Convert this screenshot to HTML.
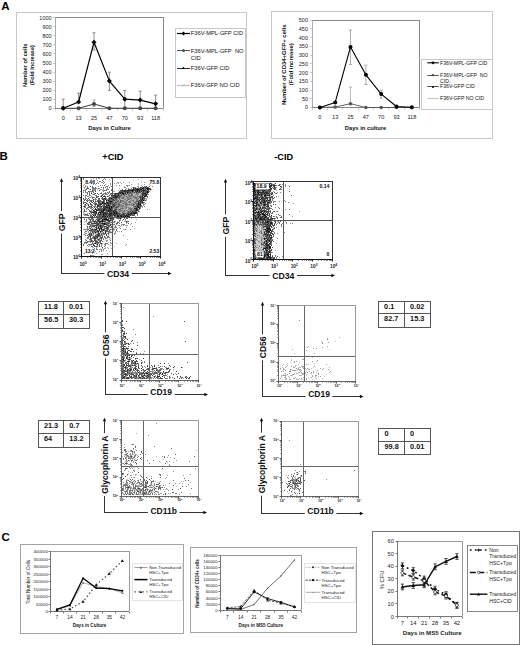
<!DOCTYPE html>
<html><head><meta charset="utf-8"><style>html,body{margin:0;padding:0;background:#fff;overflow:hidden;}svg{display:block;}</style></head>
<body><svg width="520" height="645" viewBox="0 0 520 645" font-family='"Liberation Sans", sans-serif'>
<rect width="520" height="645" fill="#fff"/>
<text x="1.2" y="9.6" font-size="11.5" font-weight="bold">A</text>
<text x="-0.6" y="159.8" font-size="11.5" font-weight="bold">B</text>
<text x="1.5" y="541" font-size="11.5" font-weight="bold">C</text>
<rect x="16.5" y="12.5" width="230" height="126" stroke="#c8c8c8" stroke-width="1" fill="none"/>
<path d="M55.5 17.5L164 17.5" stroke="#888" stroke-width="1"/>
<path d="M163.5 17L163.5 108.3" stroke="#888" stroke-width="1"/>
<path d="M55.5 17L55.5 109" stroke="#aaa" stroke-width="1"/>
<path d="M55 108.5L163.3 108.5" stroke="#888" stroke-width="1"/>
<text x="51.6" y="110.28" font-size="5.5" text-anchor="end" fill="#222">0</text>
<text x="51.6" y="101.22" font-size="5.5" text-anchor="end" fill="#222">100</text>
<text x="51.6" y="92.16" font-size="5.5" text-anchor="end" fill="#222">200</text>
<text x="51.6" y="83.1" font-size="5.5" text-anchor="end" fill="#222">300</text>
<text x="51.6" y="74.04" font-size="5.5" text-anchor="end" fill="#222">400</text>
<text x="51.6" y="64.98" font-size="5.5" text-anchor="end" fill="#222">500</text>
<text x="51.6" y="55.92" font-size="5.5" text-anchor="end" fill="#222">600</text>
<text x="51.6" y="46.86" font-size="5.5" text-anchor="end" fill="#222">700</text>
<text x="51.6" y="37.8" font-size="5.5" text-anchor="end" fill="#222">800</text>
<text x="51.6" y="28.74" font-size="5.5" text-anchor="end" fill="#222">900</text>
<text x="51.6" y="19.68" font-size="5.5" text-anchor="end" fill="#222">1000</text>
<path d="M53 108.5h2M53 99.5h2M53 90.5h2M53 81.5h2M53 72.5h2M53 63.5h2M53 53.5h2M53 44.5h2M53 35.5h2M53 26.5h2M53 17.5h2M55.5 109v2M70.5 109v2M86.5 109v2M101.5 109v2M117.5 109v2M132.5 109v2M147.5 109v2M163.5 109v2" stroke="#ccc" stroke-width="1"/>
<text x="63.2" y="119.7" font-size="5.6" text-anchor="middle" fill="#222">0</text>
<text x="78.6" y="119.7" font-size="5.6" text-anchor="middle" fill="#222">13</text>
<text x="94" y="119.7" font-size="5.6" text-anchor="middle" fill="#222">25</text>
<text x="109.4" y="119.7" font-size="5.6" text-anchor="middle" fill="#222">47</text>
<text x="124.8" y="119.7" font-size="5.6" text-anchor="middle" fill="#222">70</text>
<text x="140.2" y="119.7" font-size="5.6" text-anchor="middle" fill="#222">93</text>
<text x="155.6" y="119.7" font-size="5.6" text-anchor="middle" fill="#222">118</text>
<text x="26.6" y="65.2" font-size="5.8" font-weight="bold" text-anchor="middle" fill="#111" transform="rotate(-90 26.6 65.2)">Number of cells</text>
<text x="34" y="65" font-size="5.6" font-weight="bold" text-anchor="middle" fill="#111" transform="rotate(-90 34 65)">(Fold Increase)</text>
<text x="109.5" y="130.3" font-size="5.8" font-weight="bold" text-anchor="middle" fill="#111">Days in Culture</text>
<path d="M63.2 99.2V108.3M61.6 99.2h3.2M61.6 108.3h3.2" stroke="#777" stroke-width="0.8"/>
<path d="M78.6 93.2V102.0M77.0 93.2h3.2M77.0 102.0h3.2" stroke="#777" stroke-width="0.8"/>
<path d="M94.0 32.8V50.0M92.4 32.8h3.2M92.4 50.0h3.2" stroke="#777" stroke-width="0.8"/>
<path d="M109.4 72.2V90.4M107.8 72.2h3.2M107.8 90.4h3.2" stroke="#777" stroke-width="0.8"/>
<path d="M124.8 90.5V108.3M123.2 90.5h3.2M123.2 108.3h3.2" stroke="#777" stroke-width="0.8"/>
<path d="M140.2 91.1V108.3M138.6 91.1h3.2M138.6 108.3h3.2" stroke="#777" stroke-width="0.8"/>
<path d="M155.6 95.1V108.3M154.0 95.1h3.2M154.0 108.3h3.2" stroke="#777" stroke-width="0.8"/>
<path d="M94.0 100.0V106.5M92.4 100.0h3.2M92.4 106.5h3.2" stroke="#999" stroke-width="0.8"/>
<polyline points="63.2,108.3 78.6,108.3 94.0,104.0 109.4,108.3 124.8,108.3 140.2,108.3 155.6,108.3" fill="none" stroke="#444" stroke-width="1.1" stroke-linejoin="round"/>
<circle cx="63.2" cy="108.3" r="2" fill="#444"/>
<circle cx="78.6" cy="108.3" r="2" fill="#444"/>
<circle cx="94.0" cy="104.0" r="2" fill="#444"/>
<circle cx="109.4" cy="108.3" r="2" fill="#444"/>
<circle cx="124.8" cy="108.3" r="2" fill="#444"/>
<circle cx="140.2" cy="108.3" r="2" fill="#444"/>
<circle cx="155.6" cy="108.3" r="2" fill="#444"/>
<polyline points="63.2,108.3 78.6,102.0 94.0,42.2 109.4,81.1 124.8,99.2 140.2,100.1 155.6,103.8" fill="none" stroke="#000" stroke-width="1.2" stroke-linejoin="round"/>
<path d="M63.2 105.8L65.7 108.3L63.2 110.8L60.7 108.3Z" fill="#000"/>
<path d="M78.6 99.5L81.1 102.0L78.6 104.5L76.1 102.0Z" fill="#000"/>
<path d="M94.0 39.7L96.5 42.2L94.0 44.7L91.5 42.2Z" fill="#000"/>
<path d="M109.4 78.6L111.9 81.1L109.4 83.6L106.9 81.1Z" fill="#000"/>
<path d="M124.8 96.7L127.3 99.2L124.8 101.7L122.3 99.2Z" fill="#000"/>
<path d="M140.2 97.6L142.7 100.1L140.2 102.6L137.7 100.1Z" fill="#000"/>
<path d="M155.6 101.3L158.1 103.8L155.6 106.3L153.1 103.8Z" fill="#000"/>
<rect x="175.5" y="28.5" width="70" height="69" stroke="#c8c8c8" stroke-width="1" fill="none"/>
<path d="M177 33.5L190 33.5" stroke="#000" stroke-width="1.2"/>
<path d="M183.5 31.6L185.4 33.5L183.5 35.4L181.6 33.5Z" fill="#000"/>
<text x="190.8" y="35.37" font-size="5.75" fill="#111">F36V-MPL-GFP CID</text>
<path d="M177 50.5L190 50.5" stroke="#555" stroke-width="1"/>
<circle cx="183.5" cy="50.4" r="1.5" fill="#555"/>
<text x="190.8" y="52.67" font-size="5.75" fill="#111">F36V-MPL-GFP&#160; NO</text>
<text x="190.8" y="60.07" font-size="5.75" fill="#111">CID</text>
<path d="M177 68.5L190 68.5" stroke="#000" stroke-width="0.8"/>
<path d="M183.5 66.6L184.9 69.1L182.1 69.1Z" fill="#000"/>
<text x="190.8" y="70.27" font-size="5.75" fill="#111">F36V-GFP CID</text>
<path d="M177 85.5L190 85.5" stroke="#aaa" stroke-width="0.8"/>
<path d="M182.3 84.1L184.7 86.5M182.3 86.5L184.7 84.1" stroke="#aaa" stroke-width="0.6"/>
<text x="190.8" y="87.47" font-size="5.75" fill="#111">F36V-GFP NO CID</text>
<rect x="271.5" y="11.5" width="221" height="127" stroke="#c8c8c8" stroke-width="1" fill="none"/>
<path d="M312.2 20.5L420 20.5" stroke="#888" stroke-width="1"/>
<path d="M419.5 20L419.5 107.5" stroke="#888" stroke-width="1"/>
<path d="M312.5 20L312.5 108" stroke="#aaa" stroke-width="1"/>
<path d="M312 107.5L419.5 107.5" stroke="#888" stroke-width="1"/>
<text x="308" y="109.48" font-size="5.5" text-anchor="end" fill="#222">0</text>
<text x="308" y="100.75" font-size="5.5" text-anchor="end" fill="#222">50</text>
<text x="308" y="92.02" font-size="5.5" text-anchor="end" fill="#222">100</text>
<text x="308" y="83.29" font-size="5.5" text-anchor="end" fill="#222">150</text>
<text x="308" y="74.56" font-size="5.5" text-anchor="end" fill="#222">200</text>
<text x="308" y="65.83" font-size="5.5" text-anchor="end" fill="#222">250</text>
<text x="308" y="57.1" font-size="5.5" text-anchor="end" fill="#222">300</text>
<text x="308" y="48.37" font-size="5.5" text-anchor="end" fill="#222">350</text>
<text x="308" y="39.64" font-size="5.5" text-anchor="end" fill="#222">400</text>
<text x="308" y="30.91" font-size="5.5" text-anchor="end" fill="#222">450</text>
<text x="308" y="22.18" font-size="5.5" text-anchor="end" fill="#222">500</text>
<path d="M310 107.5h2M310 98.5h2M310 90.5h2M310 81.5h2M310 72.5h2M310 63.5h2M310 55.5h2M310 46.5h2M310 37.5h2M310 28.5h2M310 20.5h2M312.5 108v2M327.5 108v2M342.5 108v2M358.5 108v2M373.5 108v2M388.5 108v2M404.5 108v2M419.5 108v2" stroke="#ccc" stroke-width="1"/>
<text x="319.86" y="118.6" font-size="5.6" text-anchor="middle" fill="#222">0</text>
<text x="335.19" y="118.6" font-size="5.6" text-anchor="middle" fill="#222">13</text>
<text x="350.52" y="118.6" font-size="5.6" text-anchor="middle" fill="#222">25</text>
<text x="365.85" y="118.6" font-size="5.6" text-anchor="middle" fill="#222">47</text>
<text x="381.18" y="118.6" font-size="5.6" text-anchor="middle" fill="#222">70</text>
<text x="396.51" y="118.6" font-size="5.6" text-anchor="middle" fill="#222">93</text>
<text x="411.84" y="118.6" font-size="5.6" text-anchor="middle" fill="#222">118</text>
<text x="285.6" y="64.7" font-size="5.95" font-weight="bold" text-anchor="middle" fill="#111" transform="rotate(-90 285.6 64.7)">Number of CD34+GFP+ cells</text>
<text x="293.1" y="64.2" font-size="5.9" font-weight="bold" text-anchor="middle" fill="#111" transform="rotate(-90 293.1 64.2)">(Fold increase)</text>
<text x="365.5" y="129.6" font-size="5.8" font-weight="bold" text-anchor="middle" fill="#111">Days in culture</text>
<path d="M350.5 30.0V64.5M348.9 30.0h3.2M348.9 64.5h3.2" stroke="#999" stroke-width="0.8"/>
<path d="M365.9 65.2V84.5M364.2 65.2h3.2M364.2 84.5h3.2" stroke="#999" stroke-width="0.8"/>
<path d="M381.2 90.6V98.1M379.6 90.6h3.2M379.6 98.1h3.2" stroke="#999" stroke-width="0.8"/>
<path d="M350.5 87.1V103.7M348.9 87.1h3.2M348.9 103.7h3.2" stroke="#aaa" stroke-width="0.8"/>
<polyline points="319.9,107.5 335.2,107.0 350.5,103.7 365.9,107.5 381.2,107.5 396.5,107.5 411.8,107.5" fill="none" stroke="#555" stroke-width="0.9" stroke-linejoin="round"/>
<circle cx="319.9" cy="107.5" r="1.8" fill="#555"/>
<circle cx="335.2" cy="107.0" r="1.8" fill="#555"/>
<circle cx="350.5" cy="103.7" r="1.8" fill="#555"/>
<circle cx="365.9" cy="107.5" r="1.8" fill="#555"/>
<circle cx="381.2" cy="107.5" r="1.8" fill="#555"/>
<circle cx="396.5" cy="107.5" r="1.8" fill="#555"/>
<circle cx="411.8" cy="107.5" r="1.8" fill="#555"/>
<polyline points="319.9,107.5 335.2,102.4 350.5,46.9 365.9,74.8 381.2,94.1 396.5,106.5 411.8,107.2" fill="none" stroke="#000" stroke-width="1.1" stroke-linejoin="round"/>
<circle cx="319.9" cy="107.5" r="2" fill="#000"/>
<circle cx="335.2" cy="102.4" r="2" fill="#000"/>
<circle cx="350.5" cy="46.9" r="2" fill="#000"/>
<circle cx="365.9" cy="74.8" r="2" fill="#000"/>
<circle cx="381.2" cy="94.1" r="2" fill="#000"/>
<circle cx="396.5" cy="106.5" r="2" fill="#000"/>
<circle cx="411.8" cy="107.2" r="2" fill="#000"/>
<rect x="421.5" y="59.5" width="71" height="50" stroke="#c8c8c8" stroke-width="1" fill="none"/>
<path d="M427.3 62.8L438.7 62.8" stroke="#000" stroke-width="1.1"/>
<path d="M433.0 61.2L434.6 62.8L433.0 64.4L431.4 62.8Z" fill="#000"/>
<text x="440" y="64.67" font-size="5.2" fill="#111">F36V-MPL-GFP CID</text>
<path d="M427.3 75.5L438.7 75.5" stroke="#444" stroke-width="0.9"/>
<path d="M433.0 73.7L434.4 75.1L433.0 76.5L431.6 75.1Z" fill="#444"/>
<text x="440" y="76.97" font-size="5.2" fill="#111">F36V-MPL-GFP&#160; NO</text>
<text x="440" y="82.77" font-size="5.2" fill="#111">CID.</text>
<path d="M427.3 86.5L438.7 86.5" stroke="#000" stroke-width="0.7"/>
<circle cx="433.0" cy="86.9" r="1" fill="#000"/>
<text x="440" y="87.87" font-size="5.2" fill="#111">F36V-GFP CID</text>
<path d="M427.3 98.5L438.7 98.5" stroke="#bbb" stroke-width="0.9"/>
<text x="440" y="100.17" font-size="5.2" fill="#111">F36V-GFP NO CID</text>
<text x="112.9" y="160.4" font-size="9.2" font-weight="bold" text-anchor="middle">+CID</text>
<text x="283.7" y="160.4" font-size="9.2" font-weight="bold" text-anchor="middle">-CID</text>
<path d="M101 200.5h1m-6 2h1m8 0h1m-4 2h1m-9 1h1m1 1h1m-2 1h1m2 0h1m3 0h1m-11 1h1m3 0h1m-8 1h1m1 0h1m1 0h1m-4 1h1m1 0h1m2 0h1m1 1h1h1m-10 1h1m-2 1h1m1 0h1m-3 1h1h1m1 0h1m-3 1h1m2 0h1m3 0h1m-9 1h1h1m3 0h1m1 0h1m17 0h1m-28 1h1m4 0h1h1m6 0h1m-13 1h1m2 0h1m3 0h1h1h1m17 0h1m-28 1h1h1m5 0h1m19 0h1h1m-28 1h1h1m1 0h1m2 0h1m1 0h1m15 0h1h1m-26 1h1m24 0h1m3 0h1m-32 1h1m25 0h1m2 0h1m-30 1h1m3 0h1m20 0h1m1 0h1h1h1m-31 1h1h1m30 0h1m-32 1h1h1m1 0h1m15 0h1m5 0h1h1h1h1m2 0h1m-32 1h1m1 0h1m21 0h1m2 0h1h1m1 0h1m-31 1h1m1 0h1m1 0h1m22 0h1m-28 1h1m1 0h1m4 0h1m16 0h1h1h1m1 0h1h1m-27 1h1m8 0h1m16 0h1m-31 1h1m2 0h1m19 0h1m1 0h1h1m2 0h1m-28 1h1m1 0h1m21 0h1h1h1m-29 1h1m1 0h1m1 0h1m1 0h1m15 0h1m6 0h1m-27 1h1m5 0h1m1 0h1h1m11 0h1h1h1m-27 1h1h1h1m6 0h1m10 0h1m1 0h1m1 0h1h1h1h1m-27 1h1m1 0h1m5 0h1m8 0h1h1m2 0h1h1h1h1m1 0h1m-28 1h1m5 0h1h1m10 0h1m1 0h1h1m2 0h1m1 0h1m-27 1h1m3 0h1m1 0h1m6 0h1h1m3 0h1m2 0h1m-21 1h1m2 0h1m14 0h1m2 0h1m1 0h1m1 0h1m-25 1h1m4 0h1h1m2 0h1m3 0h1m1 0h1m1 0h1h1h1h1h1m1 0h1h1m-23 1h1m3 0h1m8 0h1h1h1h1m3 0h1m-16 1h1m3 0h1m2 0h1m1 0h1h1m3 0h1m-21 1h1m2 0h1m1 0h1h1m7 0h1h1h1m1 0h1m1 0h1m-19 1h1h1m7 0h1m4 0h1m-10 1h1m2 0h1m3 0h1h1m-14 1h1h1m4 0h1m1 0h1m3 0h1m-10 1h1m6 0h1m-4 1h1" stroke="#eaeaea" stroke-width="1" fill="none"/>
<path d="M104 211.5h1m-8 1h1m10 0h1m-12 1h1m1 0h1m-4 1h1m-4 4h1m1 1h1m13 0h1m-4 2h1m3 0h1h1m-20 1h1h1m4 0h1m4 0h1m6 1h1m-17 1h1m14 0h1m-6 1h1m-10 1h1m-4 1h1h1h1m10 0h1m3 0h1m-19 1h1m3 0h1m6 0h1m6 0h1m-13 1h1m11 0h1m-10 1h1m-2 1h1m3 0h1h1m-6 1h1m2 0h1m1 0h1m1 0h1m-15 1h1m7 0h1m5 0h1m-15 1h1m2 0h1m4 0h1m-8 1h1m11 0h1m-5 1h1m-4 2h1m3 0h1m-6 2h1" stroke="#d4d4d4" stroke-width="1" fill="none"/>
<path d="M133 180.5h1m15 4h1m-15 9h1m4 0h1m-14 1h1m2 0h1m2 0h1h1m4 0h1m-14 1h1m6 0h1m2 0h1m1 0h1m4 1h1m-6 1h1m-19 1h1m12 0h1m-16 1h1m2 0h1h1h1m6 0h1m1 0h1m2 0h1m3 0h1m-21 1h1m8 0h1h1m5 0h1m-29 1h1m23 0h1m2 0h1m-3 1h1m-13 1h1h1m-11 2h1m12 0h1m10 0h1m-24 1h1m15 0h1h1h1h1h1m-14 1h1m11 0h1m-13 1h1m7 0h1m10 0h1m-26 1h1m7 0h1m2 0h1m2 0h1m21 0h1m-33 1h1m8 1h1m-7 1h1h1m3 2h1m16 3h1m-36 1h1m-7 1h1m5 2h1m-13 1h1m5 0h1m-9 2h1m1 0h1m11 2h1m-9 1h1m3 0h1m-10 1h1m8 0h1m1 1h1m-5 3h1m0 2h1m24 5h1m-14 7h1m-6 5h1" stroke="#bfbfbf" stroke-width="1" fill="none"/>
<path d="M91 179.5h1m4 0h1m41 0h1m-52 2h1m24 0h1m-16 1h1m22 0h1m2 0h1m17 0h1m-28 1h1m1 0h1m1 0h1m19 0h1m-55 1h1m8 0h1m1 0h1m42 0h1m-54 1h1m42 0h1h1m-44 1h1m37 0h1m2 0h1m-45 1h1m5 2h1m61 0h1m-69 2h1m29 0h1h1m19 0h1m6 1h1m-2 2h1m-6 1h1m3 0h1m-18 1h1m2 0h1m6 0h1m3 0h1m-16 1h1m3 0h1h1m2 0h1m2 0h1m-20 1h1m10 0h1h1h1m5 0h1m6 0h1m6 0h1m-21 1h1m11 0h1m-15 1h1h1m8 0h1m11 0h1m-33 1h1m12 0h1m4 0h1m-10 1h1m3 0h1h1m2 0h1m5 0h1m-10 1h1h1h1m3 0h1m-13 1h1h1m6 0h1m1 0h1m2 0h1m-20 1h1m11 0h1h1m-15 1h1m11 0h1m-5 1h1m8 0h1m9 0h1m-30 1h1m10 0h1m8 0h1m-17 1h1m5 0h1m1 0h1h1m5 0h1m14 0h1m-29 1h1m8 0h1m-46 1h1m41 0h1m5 0h1m-7 1h1m-5 1h1m13 3h1m-4 1h1m-31 1h1m28 0h1m4 1h1m-37 1h1m24 0h1m-42 2h1m42 0h1m7 0h1m-52 2h1m16 0h1m28 0h1m-6 1h1m-29 1h1m22 0h1m-24 1h1m19 1h1m16 0h1m-52 1h1m16 0h1m22 0h1h1m-6 2h1m-37 3h1m30 0h1m-5 4h1m-2 1h1m0 4h1h1m4 0h1m8 2h1m-34 2h1h1m11 0h1m1 0h1m-3 1h1m5 0h1m-6 2h1m-15 1h1m-1 2h1" stroke="#aaaaaa" stroke-width="1" fill="none"/>
<path d="M93 178.5h1m2 0h1m1 0h1h1m4 0h1m6 0h1m-3 1h1m-16 1h1m7 2h1m1 0h1m12 0h1h1m25 0h1m-35 1h1m10 0h1m-17 1h1m25 0h1m12 0h1m-62 1h1m24 0h1m7 0h1m9 0h1m14 0h1m8 0h1m-64 1h1m10 0h1m38 0h1h1m-55 1h1m22 0h1m16 0h1m7 0h1m1 0h1m3 0h1m-55 1h1m1 0h1m9 0h1m2 0h1m3 0h1m15 0h1m8 0h1m-44 1h1m7 0h1h1m2 0h1m3 0h1m1 0h1m3 0h1m3 0h1m34 0h1m-63 1h1m8 0h1m9 0h1m1 0h1m12 0h1m31 0h1m-60 1h1m1 0h1m-9 1h1h1m4 0h1m9 0h1m6 0h1h1m23 0h1m-40 1h1m8 0h1m2 0h1m19 0h1m6 0h1h1m3 0h1h1m-53 1h1m4 0h1m18 0h1m8 0h1m16 0h1h1m8 0h1h1m-59 1h1m31 0h1h1m1 0h1m1 0h1m6 0h1m6 0h1m-57 1h1m2 0h1m32 0h1m1 0h1h1m2 0h1h1m6 0h1m-46 1h1m3 0h1m29 0h1m6 0h1m5 0h1m-52 1h1m30 0h1m11 0h1m1 0h1m2 0h1m2 0h1m-54 1h1m9 0h1m19 0h1m5 0h1m6 0h1m5 0h1h1m-18 1h1m12 0h1m-48 1h1m12 0h1m19 0h1m2 0h1m1 0h1m2 0h1m1 0h1m-41 1h1m27 0h1m2 0h1h1m3 0h1m3 0h1m6 0h1m2 0h1m-50 1h1m6 0h1m21 0h1m7 0h1m2 0h1m3 0h1h1m10 0h1m-60 1h1m2 0h1m29 0h1m6 0h1m18 0h1h1m-61 1h1h1m31 0h1m4 0h1m4 0h1m2 0h1h1m2 0h1m8 0h1m-24 1h1m3 0h1m1 0h1m14 0h1h1m-56 1h1m2 0h1m29 0h1h1h1m1 0h1h1m1 0h1m1 0h1m3 0h1m-51 1h1m33 0h1h1m7 0h1m1 0h1m-7 1h1m6 0h1m-8 1h1h1m1 0h1m1 0h1m1 0h1m-45 1h1m32 0h1m3 0h1m16 0h1m-57 1h1m34 0h1h1m3 0h1m-37 1h1m34 0h1m3 0h1m10 0h1m-55 1h1h1m35 0h1m12 0h1m-50 1h1h1h1m44 0h1m-48 3h1m4 0h1m26 0h1m3 1h1m-1 1h1m-36 1h1h1m4 0h1m23 0h1m8 0h1h1m-12 1h1m11 1h1m4 0h1m-11 1h1h1m-32 1h1m23 0h1m5 0h1m4 0h1h1m4 1h1m-17 1h1m2 0h1m6 0h1m-40 1h1m23 1h1m1 0h1m16 0h1m-19 1h1h1m-26 1h1m21 0h1m-23 1h1m26 0h1m-31 1h1m21 0h1m7 0h1m7 2h1m-17 1h1m0 1h1m-21 1h1m3 0h1m12 0h1m-21 1h1m4 1h1m15 0h1h1m-23 1h1m6 0h1m-9 1h1m8 1h1m8 0h1m-11 1h1m3 0h1m11 0h1m17 0h1m-38 1h1m11 0h1m8 0h1m-23 1h1m12 0h1m-6 1h1m-3 1h1m7 0h1m1 0h1m3 0h1m-10 1h1h1m2 1h1m-18 1h1m8 0h1m0 2h1m10 0h1m-7 1h1h1m-11 1h1h1" stroke="#959595" stroke-width="1" fill="none"/>
<path d="M83 179.5h1m19 0h1m1 0h1m-9 1h1m4 0h1m-3 1h1m2 0h1m-3 1h1m27 0h1m-39 1h1m11 0h1m6 1h1m-11 1h1m1 0h1m1 0h1m14 0h1m7 0h1m-43 1h1m6 0h1m14 0h1m34 0h1m2 0h1m6 0h1m-60 1h1m7 0h1m7 0h1m15 0h1m9 0h1m6 0h1m1 0h1m-53 1h1m2 0h1m11 0h1m18 0h1m4 0h1m2 0h1m15 0h1m-65 1h1m5 0h1m2 0h1m4 0h1m7 0h1m35 0h1m-60 1h1m8 0h1h1m6 0h1m-13 1h1m12 0h1m38 0h1m-60 1h1m3 0h1m17 0h1m6 0h1m5 0h1m12 0h1m3 0h1m1 0h1m-25 1h1h1m13 0h1m1 0h1m1 0h1m3 0h1h1m-45 1h1m8 0h1m2 0h1h1h1m11 0h1m5 0h1m3 0h1m2 0h1m2 0h1m5 0h1m-59 1h1m1 0h1m10 0h1m31 0h1h1m7 0h1m2 0h1m-54 1h1m12 0h1m29 0h1h1m2 0h1m2 0h1h1m-54 1h1m3 0h1m30 0h1m1 0h1m4 0h1h1m1 0h1m3 0h1m-50 1h1m32 0h1m2 0h1m6 0h1m6 0h1m9 0h1m-63 1h1m5 0h1m5 0h1h1m1 0h1m7 0h1h1m8 0h1h1m1 0h1m4 0h1h1m5 0h1m4 0h1m9 0h1m-60 1h1h1h1m2 0h1h1m1 0h1m1 0h1m9 0h1m7 0h1m7 0h1m3 0h1m3 0h1h1m4 0h1h1m-49 1h1m9 0h1m12 0h1m1 0h1m6 0h1h1m1 0h1m2 0h1m1 0h1m2 0h1m1 0h1m3 0h1m-49 1h1m2 0h1h1m5 0h1m11 0h1m5 0h1m1 0h1m3 0h1m18 0h1m-52 1h1m19 0h1m3 0h1m1 0h1m2 0h1m2 0h1h1m6 0h1m8 0h1m2 0h1m-36 1h1h1m3 0h1m4 0h1h1m6 0h1m7 0h1m-51 1h1m4 0h1m3 0h1m22 0h1m1 0h1h1m3 0h1h1m-42 1h1m2 0h1m1 0h1m2 0h1h1m7 0h1m18 0h1m1 0h1m1 0h1m7 0h1m2 0h1m7 0h1m-61 1h1h1m3 0h1m6 0h1m2 0h1m14 0h1m13 0h1m1 0h1m3 0h1h1m-50 1h1h1m2 0h1h1m1 0h1m21 0h1m5 0h1m1 0h1m1 0h1m4 0h1m1 0h1m7 0h1m-55 1h1m7 0h1m2 0h1m20 0h1m9 0h1m2 0h1m2 0h1m4 0h1m-51 1h1m1 0h1m24 0h1m3 0h1h1m4 0h1m5 0h1m5 0h1m-50 1h1m2 0h1h1m23 0h1m2 0h1h1m1 0h1h1m2 0h1m1 0h1m-6 1h1m1 0h1h1m2 0h1m-47 1h1m8 0h1m-8 1h1m3 0h1m2 0h1h1m2 1h1h1m38 0h1m-47 1h1m5 0h1m10 0h1m-26 1h1h1m3 0h1m5 0h1m18 0h1h1m10 0h1h1m-39 1h1m28 0h1m3 0h1m4 0h1m-41 1h1m4 0h1h1m7 0h1m-15 1h1m35 0h1m-34 1h1m2 0h1m19 0h1m6 0h1m-16 1h1h1m2 0h1h1h1m2 0h1m12 0h1m-40 2h1m2 0h1h1m7 0h1m8 0h1m2 0h1m1 0h1m2 0h1m6 0h1h1m-33 1h1m13 0h1m11 0h1h1m3 0h1m-33 1h1m11 0h1m-13 1h1m18 0h1m1 0h1m1 0h1h1m-27 1h1m2 0h1m20 0h1m6 0h1m-37 1h1m1 0h1h1m2 0h1m15 0h1m5 0h1m1 0h1m10 0h1m-39 1h1m5 0h1m2 0h1m7 0h1m2 0h1m8 0h1m-31 1h1m3 0h1h1m1 0h1m1 0h1m13 0h1m5 0h1m1 0h1m3 0h1m-38 1h1m5 0h1m2 0h1h1m1 0h1h1m10 0h1h1m-24 1h1m15 0h1m1 0h1m7 0h1m1 0h1m-31 1h1m8 0h1m9 0h1h1m-20 1h1m6 0h1m3 0h1m3 0h1m1 0h1m-9 1h1m4 0h1h1m-14 1h1h1m3 0h1m11 0h1h1m-19 1h1m5 0h1m3 0h1m5 0h1m2 0h1m-18 1h1m1 0h1m5 0h1m5 0h1m-8 1h1m2 0h1m10 0h1m-22 1h1m9 0h1m2 0h1m3 0h1m-17 1h1m1 0h1m6 0h1m10 0h1m-25 1h1m9 0h1h1h1m7 0h1m-19 1h1h1h1m10 0h1m2 0h1m-18 1h1m9 0h1m-6 1h1m2 0h1m0 2h1m4 1h1m1 0h1m-13 1h1m9 0h1m-3 1h1m1 0h1m-18 2h1m6 2h1" stroke="#808080" stroke-width="1" fill="none"/>
<path d="M83 178.5h1m15 3h1m-4 2h1m1 0h1m7 3h1m4 0h1m32 0h1m4 0h1m-63 1h1m4 0h1m2 0h1m37 0h1m12 0h1m-54 1h1h1m3 0h1m37 0h1m4 0h1m3 0h1m-56 1h1m15 0h1m15 0h1m8 0h1m3 0h1m6 0h1m-60 1h1m8 0h1m6 0h1m4 0h1m1 0h1m4 0h1m28 0h1m6 0h1m-63 1h1m3 0h1m29 0h1h1m9 0h1m7 0h1m1 0h1m3 0h1m4 0h1m-61 1h1m3 0h1m13 0h1m15 0h1h1m1 0h1m2 0h1m10 0h1m3 0h1m-56 1h1m10 0h1h1m2 0h1m3 0h1m1 0h1m1 0h1m8 0h1m2 0h1m4 0h1m1 0h1m9 0h1m4 0h1m-58 1h1m4 0h1m3 0h1m4 0h1m12 0h1m4 0h1h1m1 0h1m3 0h1m7 0h1m-48 1h1m5 0h1m8 0h1m12 0h1m1 0h1h1m3 0h1m5 0h1h1h1m-42 1h1m5 0h1m13 0h1m1 0h1m4 0h1m1 0h1m5 0h1m2 0h1m3 0h1m12 0h1h1m-51 1h1m12 0h1h1m6 0h1m4 0h1m9 0h1m1 0h1h1m2 0h1m7 0h1m-56 1h1m6 0h1m1 0h1h1h1m2 0h1m1 0h1m6 0h1m3 0h1m2 0h1h1m3 0h1m8 0h1m1 0h1m2 0h1m2 0h1m-60 1h1m1 0h1m11 0h1m4 0h1m3 0h1m1 0h1h1m16 0h1h1m7 0h1m5 0h1h1m-59 1h1m3 0h1m8 0h1m10 0h1h1h1h1m2 0h1m4 0h1h1m3 0h1m6 0h1m2 0h1m3 0h1m1 0h1m1 0h1m-50 1h1m5 0h1h1m1 0h1m1 0h1m5 0h1m5 0h1m10 0h1m6 0h1m-54 1h1m1 0h1m14 0h1m3 0h1m4 0h1m10 0h1m3 0h1m4 0h1h1m3 0h1h1m5 0h1m-44 1h1m7 0h1m4 0h1h1m2 0h1m2 0h1m4 0h1m11 0h1h1m2 0h1m1 0h1m-48 1h1m1 0h1h1h1m4 0h1m1 0h1m1 0h1m6 0h1m10 0h1h1h1m1 0h1m1 0h1m2 0h1m-43 1h1m6 0h1h1m1 0h1h1m15 0h1m3 0h1m8 0h1h1m7 0h1m-59 1h1m5 0h1m5 0h1m12 0h1m1 0h1m7 0h1h1m2 0h1m11 0h1m-47 1h1m2 0h1h1m7 0h1h1m8 0h1m2 0h1m3 0h1h1m7 0h1m13 0h1m-44 1h1m1 0h1m1 0h1h1m3 0h1m7 0h1m1 0h1m3 0h1m1 0h1m6 0h1m1 0h1m-48 1h1m3 0h1m3 0h1m9 0h1m2 0h1m1 0h1m6 0h1m5 0h1m9 0h1m2 0h1m4 0h1m-34 1h1m12 0h1m5 0h1m5 0h1m2 0h1h1m-49 1h1m4 0h1m7 0h1h1m4 0h1h1m7 0h1m4 0h1m14 0h1m-45 1h1m7 0h1m33 0h1m4 0h1m-44 1h1m6 0h1h1m21 0h1m4 0h1m-43 1h1m13 0h1m5 0h1m10 0h1m18 0h1m-51 1h1h1m1 0h1m3 0h1m7 0h1m2 0h1m1 0h1m4 0h1h1m2 0h1m12 0h1m4 0h1m-45 1h1m3 0h1m3 0h1m1 0h1h1m4 0h1m5 0h1m2 0h1h1m-28 1h1m3 0h1m13 0h1m3 0h1m5 0h1m10 0h1m1 0h1m-32 1h1m8 0h1h1m9 0h1m7 0h1m-44 1h1m4 0h1h1m6 0h1m13 0h1m13 0h1m-34 1h1h1m1 0h1m3 0h1m1 0h1m1 0h1h1m1 0h1m4 0h1m7 0h1m-30 1h1m6 0h1m7 0h1m20 0h1h1h1m-39 1h1h1m8 0h1m5 0h1m4 0h1m9 0h1m-34 1h1h1m9 0h1h1m5 0h1h1m1 0h1m7 0h1m1 0h1m8 0h1m-40 1h1m2 0h1m7 0h1m1 0h1m4 0h1m6 0h1m-25 1h1m7 0h1h1m2 0h1m6 0h1m-23 1h1m1 0h1h1m2 0h1m5 0h1m1 0h1h1m2 0h1m3 0h1m5 0h1m-29 1h1m7 0h1m8 0h1m6 0h1m-15 1h1m7 0h1m-21 1h1m18 0h1m3 0h1m1 0h1m5 0h1m-26 1h1m6 0h1m-14 1h1m15 0h1h1m3 0h1m-4 1h1m6 0h1h1m-22 1h1m4 0h1m5 0h1m-12 1h1m5 0h1m11 0h1m-19 1h1m6 0h1m3 0h1m-14 1h1h1m12 0h1m-10 1h1m2 0h1m5 0h1m6 0h1m-14 1h1m2 0h1h1m-7 1h1m4 0h1m1 0h1m-10 1h1m5 0h1m1 0h1m-14 1h1h1m8 0h1m-12 1h1h1m8 0h1m3 0h1m-17 1h1m7 0h1m12 0h1m1 0h1m-25 1h1m21 0h1m-23 1h1m15 0h1m5 0h1m-15 1h1m5 0h1m6 0h1m-9 3h1h1m-8 6h1" stroke="#6a6a6a" stroke-width="1" fill="none"/>
<path d="M90 186.5h1m55 0h1m-44 1h1m1 0h1m35 0h1m6 0h1m-62 1h1h1m49 0h1h1m4 0h1m-20 1h1m2 0h1h1h1m14 0h1m3 0h1h1m-31 1h1h1m1 0h1m2 0h1m14 0h1m4 0h1m-59 1h1m3 0h1m2 0h1m13 0h1m13 0h1m2 0h1m2 0h1m1 0h1m1 0h1m2 0h1m8 0h1h1m1 0h1m-17 1h1m6 0h1m2 0h1m2 0h1m-59 1h1m3 0h1m5 0h1m7 0h1m5 0h1m7 0h1m-10 1h1m1 0h1m4 0h1m13 0h1m12 0h1m-59 1h1m14 0h1h1m12 0h1h1m4 0h1m22 0h1m-49 1h1m1 0h1m6 0h1m2 0h1m5 0h1m24 0h1h1h1m-49 1h1m2 0h1m12 0h1m2 0h1m4 0h1m1 0h1m21 0h1h1m1 0h1m-62 1h1m4 0h1m6 0h1m2 0h1m6 0h1m8 0h1m15 0h1m9 0h1m2 0h1m-35 1h1m5 0h1m25 0h1m-58 1h1m6 0h1m8 0h1m2 0h1h1m4 0h1m8 0h1m1 0h1m24 0h1m-55 1h1m6 0h1m9 0h1m8 0h1m2 0h1m16 0h1m-54 1h1m14 0h1m8 0h1m2 0h1m4 0h1m-34 1h1m2 0h1m3 0h1m4 0h1h1m2 0h1m1 0h1m7 0h1m27 0h1m-50 1h1m15 0h1m4 0h1m6 0h1m1 0h1h1m13 0h1m3 0h1m-28 1h1m2 0h1m1 0h1m20 0h1m2 0h1m-56 1h1m14 0h1h1m2 0h1m2 0h1m7 0h1m1 0h1h1m21 0h1m-43 1h1m6 0h1m7 0h1m2 0h1m20 0h1m-39 1h1m1 0h1m2 0h1m4 0h1m28 0h1m-38 1h1m15 0h1m18 0h1m-52 1h1m9 0h1m3 0h1m1 0h1m11 0h1h1m17 0h1m-48 1h1m5 0h1m5 0h1m10 0h1m20 0h1m4 0h1m2 0h1m1 0h1m-48 1h1m11 0h1m2 0h1m3 0h1m4 0h1m6 0h1m5 0h1m-40 1h1m1 0h1m17 0h1m7 0h1m2 0h1m4 0h1m10 0h1m-52 1h1m6 0h1m4 0h1h1m3 0h1m5 0h1m5 0h1h1h1m7 0h1m2 0h1m4 0h1m-42 1h1m8 0h1h1m7 0h1m9 0h1m2 0h1h1m9 0h1m-24 1h1h1m2 0h1m4 0h1m4 0h1m1 0h1m-11 1h1m10 0h1m-31 1h1h1m1 0h1m2 0h1m14 0h1m5 0h1m-32 1h1m4 0h1m11 0h1m12 0h1m-27 1h1m7 0h1m-13 1h1m2 0h1m17 0h1m-27 1h1h1m6 0h1h1m9 0h1m9 0h1h1m-32 1h1m3 0h1m2 0h1m1 0h1m19 0h1m-29 1h1m7 0h1m6 0h1m-10 1h1m1 0h1m10 0h1h1m-17 1h1m5 0h1m7 0h1m1 0h1m2 0h1m-23 1h1m16 0h1m1 0h1m-5 1h1m2 0h1h1m-21 1h1m2 0h1m1 0h1m-4 1h1m1 0h1m1 0h1h1m5 0h1h1m3 0h1m-15 1h1m3 0h1m10 0h1h1m-11 1h1m1 0h1m-12 1h1m3 0h1m-6 1h1h1m8 0h1h1m6 0h1m-20 1h1m1 0h1m16 0h1m-12 1h1m8 0h1m3 0h1m-19 1h1m4 0h1m11 0h1m-18 1h1h1m9 0h1m-12 1h1m4 0h1m-10 1h1m4 0h1m3 0h1m5 0h1m-12 1h1m4 0h1m4 0h1m-16 1h1m11 0h1m-4 1h1m5 0h1h1m-11 1h1m1 0h1m-1 1h1m0 1h1m1 0h1m2 0h1m2 1h1" stroke="#555555" stroke-width="1" fill="none"/>
<path d="M140 187.5h1m6 0h1m-15 1h1m3 0h1m2 0h1m8 0h1m-18 1h1m1 0h1m4 0h1m3 0h1m-22 1h1m1 0h1m5 0h1m2 0h1h1m3 0h1m3 0h1m2 0h1m2 0h1m-28 1h1h1m4 0h1h1m6 0h1m-16 1h1m4 0h1m2 0h1m5 0h1m3 0h1m4 0h1m2 0h1m1 0h1m-54 1h1m19 0h1m1 0h1h1m8 0h1m15 0h1m3 0h1m-34 1h1m11 0h1m15 0h1h1m1 0h1m-37 1h1m1 0h1m30 0h1h1m-43 1h1m1 0h1h1m2 0h1m4 0h1m6 0h1m-28 1h1m9 0h1m2 0h1m8 0h1m1 0h1m-7 1h1m5 0h1m-24 1h1m8 0h1h1m-6 1h1m15 0h1m-28 1h1m5 0h1m3 0h1m1 0h1m38 0h1m2 0h1h1m-54 1h1m2 0h1m10 0h1m6 0h1m4 0h1m23 0h1h1m1 0h1h1m-44 1h1m13 0h1m25 0h1m-56 1h1m4 0h1h1m14 0h1m1 0h1m3 0h1h1m-26 1h1m8 0h1m6 0h1m2 0h1m1 0h1m2 0h1m25 0h1m1 0h1m-50 1h1m12 0h1m2 0h1m30 0h1m1 0h1m-47 1h1m10 0h1m2 0h1m7 0h1m20 0h1m1 0h1m-45 1h1m11 0h1m3 0h1m-13 1h1m1 0h1m6 0h1m2 0h1m3 0h1m3 0h1m17 0h1m-45 1h1m5 0h1m1 0h1h1m3 0h1h1m7 0h1m19 0h1m-41 1h1m6 0h1m7 0h1h1m4 0h1m13 0h1m4 0h1m-44 1h1m1 0h1h1m5 0h1m3 0h1m1 0h1m3 0h1h1h1m3 0h1m11 0h1m4 0h1m-40 1h1h1m7 0h1h1h1h1h1m4 0h1m4 0h1h1m7 0h1h1m3 0h1m-34 1h1m4 0h1m6 0h1h1m6 0h1m1 0h1h1m3 0h1m3 0h1h1m2 0h1m-36 1h1m4 0h1m1 0h1m1 0h1m2 0h1m3 0h1m2 0h1m2 0h1m3 0h1m1 0h1h1m3 0h1m-34 1h1m22 0h1m-33 1h1m5 0h1h1m2 0h1h1m1 0h1m4 0h1m10 0h1m1 0h1m1 0h1m-33 1h1h1m18 0h1h1h1m-18 1h1m6 0h1m4 0h1m3 0h1h1m-24 1h1m18 0h1m-15 1h1m7 0h1h1m3 0h1m-15 1h1m-3 1h1h1m3 0h1h1m3 0h1m5 0h1m3 0h1m-16 1h1h1m6 0h1h1m5 0h1m-20 1h1m1 0h1m1 0h1m3 0h1m1 0h1m-8 1h1m7 0h1m7 0h1m-17 1h1m3 0h1m1 0h1m-13 1h1m7 0h1m7 0h1m-15 1h1m1 0h1m6 0h1m5 0h1m-19 1h1m7 0h1m5 0h1m1 0h1m3 0h1m-16 1h1m2 0h1m-6 1h1m12 0h1m-15 1h1m7 0h1m3 0h1m4 0h1m-18 1h1m9 0h1m-11 1h1m3 0h1m-6 1h1m2 0h1m2 0h1m1 0h1m1 1h1h1m-8 1h1h1m2 1h1m-5 1h1m-4 1h1m1 0h1m2 0h1m-2 1h1m2 0h1m-4 1h1m1 1h1m1 0h1m-6 1h1" stroke="#404040" stroke-width="1" fill="none"/>
<path d="M143 187.5h1m1 0h1m-3 1h1m4 0h1m-16 1h1m2 0h1h1m10 0h1m-24 1h1m2 0h1h1m1 0h1m3 0h1h1h1m1 0h1m-15 1h1m13 0h1m1 0h1m1 0h1m-25 1h1m2 0h1m7 0h1m5 0h1m-21 1h1m8 0h1m16 0h1m1 0h1m-30 1h1m2 0h1m4 0h1m-11 1h1h1m3 0h1m27 0h1m-31 1h1m28 0h1m-6 1h1m2 0h1m-40 1h1m7 0h1m-8 1h1m6 0h1m27 0h1m-2 1h1m-37 1h1m36 0h1m-43 1h1m13 0h1m25 0h1m-37 1h1h1m3 0h1h1m29 0h1m-44 1h1m3 0h1h1h1m36 0h1m-41 1h1m15 0h1m22 0h1m-41 1h1h1m10 0h1m3 0h1m21 0h1m-33 1h1m2 0h1m-3 1h1h1m4 0h1m1 0h1m21 0h1h1m3 0h1m-45 1h1h1m1 0h1m7 0h1m2 0h1m26 0h1m-41 1h1h1m6 0h1m3 0h1h1h1h1m2 0h1m-21 1h1m13 0h1h1m5 0h1m-23 1h1m10 0h1m4 0h1m21 0h1m1 0h1m1 0h1h1m-22 1h1m7 0h1m7 0h1m-37 1h1m4 0h1m5 0h1m3 0h1m18 0h1m-37 1h1m1 0h1m7 0h1m20 0h1m5 0h1m-39 1h1m3 0h1m6 0h1h1m4 0h1m10 0h1m7 0h1h1m-35 1h1m2 0h1m3 0h1m7 0h1m1 0h1m2 0h1m4 0h1m3 0h1m-21 1h1h1h1m3 0h1m9 0h1m-22 1h1m-2 1h1m9 0h1m1 0h1m-17 1h1m3 0h1h1h1h1h1m-1 1h1m-8 1h1m5 0h1m1 0h1m1 0h1m4 1h1m-1 1h1m-17 1h1m6 1h1m5 0h1m-12 1h1m2 0h1h1h1m-7 1h1h1m2 0h1m2 0h1h1m-5 1h1m5 1h1m-11 1h1m9 1h1m-8 2h1h1m-3 1h1m-4 1h1m2 0h1" stroke="#2a2a2a" stroke-width="1" fill="none"/>
<path d="M135 188.5h1m6 0h1m3 0h1h1m-10 1h1m1 0h1h1m5 0h1m-21 1h1m4 0h1m10 0h1h1m-21 1h1m7 0h1m4 0h1m9 0h1m-27 1h1m5 0h1m19 0h1m-28 1h1m1 0h1h1m21 0h1m0 1h1m-2 1h1m-31 1h1m1 0h1m24 0h1m1 0h1m-32 1h1m1 0h1m-7 1h1m1 0h1m30 0h1m-30 1h1m28 0h1m-37 1h1m1 0h1m32 0h1m1 0h1m-35 1h1h1h1m-10 1h1m3 0h1h1m-4 1h1h1m4 0h1m28 1h1h1m-35 1h1m1 0h1m-8 1h1m3 0h1m5 0h1m25 0h1m-31 1h1m1 0h1m1 0h1m26 0h1m-30 1h1m26 0h1m-34 1h1h1m5 0h1m1 0h1m-10 1h1m32 0h1h1m-37 1h1m1 0h1m8 0h1h1m18 0h1m-37 1h1m2 0h1h1m1 0h1m11 0h1m1 0h1m-19 1h1m1 0h1m2 0h1m6 0h1h1h1m1 0h1m1 0h1m13 0h1m2 0h1h1h1m-33 1h1m1 0h1m3 0h1m3 0h1m3 0h1m5 0h1m4 0h1m-19 1h1m3 0h1m2 0h1m2 0h1m5 0h1m-25 1h1m2 0h1m1 0h1m9 0h1h1m2 0h1m1 0h1m1 0h1m1 0h1m-24 1h1h1h1m2 0h1m8 0h1m3 0h1m-22 1h1m0 1h1m1 0h1h1h1h1m-6 1h1m4 0h1m1 1h1m-11 1h1m4 1h1m-1 1h1m-5 1h1m-1 1h1m-3 1h1m-1 4h1m1 0h1m-3 2h1m-2 1h1" stroke="#151515" stroke-width="1" fill="none"/>
<path d="M272 183.5h1h1h1m-3 3h1m-2 1h1m0 1h1m0 1h1m-3 1h1m-1 1h1m-2 1h1m2 0h1m-3 3h1m-4 3h1m2 0h1m-1 1h1m-1 1h1m-1 3h1m-3 1h1h1m-2 1h1m-1 1h1h1m-1 1h1m-6 2h1m3 1h1m-1 2h1m-4 1h1m1 1h1m1 0h1m-4 2h1h1m0 1h1m-1 1h1m-10 9h1m-1 2h1m-7 8h1" stroke="#eaeaea" stroke-width="1" fill="none"/>
<path d="M270 184.5h1m-2 4h1m0 6h1m-4 2h1h1m1 0h1m-11 2h1m5 1h1m1 0h1m-3 3h1m-1 1h1m-12 1h1m10 1h1m-6 1h1m-1 1h1m4 0h1m-5 2h1m-7 1h1m10 0h1m-13 1h1m6 1h1m-7 1h1m9 2h1m-1 5h1m-3 1h1m-7 4h1m-3 1h1m1 0h1m2 0h1m-6 1h1m1 0h1h1m4 1h1h1m-8 1h1m3 1h1m-8 1h1m3 0h1m2 0h1m-7 1h1h1m2 0h1m1 0h1m-5 1h1h1m-3 1h1m1 0h1h1m1 0h1m-7 1h1m4 0h1m0 1h1m-3 2h1m-3 1h1h1h1m-3 1h1m5 0h1m-9 1h1h1m5 0h1m-8 1h1h1h1m-2 1h1m1 0h1m-4 1h1m1 0h1h1h1m3 0h1m-5 1h1m-7 1h1m1 0h1h1h1m1 0h1h1m-3 1h1h1m-5 1h1h1m1 0h1m1 0h1h1m-8 1h1m2 0h1m1 0h1m3 0h1m-1 1h1m-10 1h1h1h1h1h1m-4 1h1m2 0h1h1m-5 1h1m1 0h1m0 1h1m-3 2h1m4 1h1m2 0h1" stroke="#d4d4d4" stroke-width="1" fill="none"/>
<path d="M263 195.5h1m-5 1h1m3 0h1m-10 4h1m5 0h1m-3 2h1m-5 2h1m7 1h1m2 1h1m-11 1h1m2 0h1m-2 4h1m7 1h1m-6 1h1m3 0h1m-10 1h1m5 1h1m-3 7h1m-4 1h1m4 0h1m-2 2h1m-2 1h1m5 1h1m-9 1h1h1m1 0h1m0 1h1m-5 1h1m1 0h1h1m3 0h1m-7 1h1m-4 1h1m0 1h1m6 0h1m-6 1h1m2 0h1m-2 1h1m-5 1h1h1h1m1 0h1m3 0h1m-10 1h1m2 0h1h1m3 0h1m1 0h1m-10 1h1h1h1h1m-3 1h1m4 0h1h1m2 0h1m-11 1h1m2 0h1h1m1 0h1h1m-9 1h1m4 0h1m-1 1h1m-5 1h1m5 0h1m-8 1h1m1 0h1m0 1h1m3 1h1h1m-9 1h1m6 0h1m-7 2h1m2 0h1m1 0h1m-6 1h1h1h1m3 0h1m-2 1h1m-7 1h1m6 0h1m-8 1h1m6 0h1m-5 1h1m1 0h1m-4 1h1m2 1h1" stroke="#bfbfbf" stroke-width="1" fill="none"/>
<path d="M289 189.5h1m-29 2h1m-3 2h1m-6 3h1m3 0h1m19 0h1m-24 6h1m6 1h1m-3 1h1m-7 2h1m8 3h1m-7 1h1m1 0h1m39 1h1m-11 3h1m-28 1h1m-5 4h1m23 1h1m-28 1h1m5 0h1m23 0h1m-30 1h1m2 1h1m-3 1h1m-1 1h1m6 0h1m-10 1h1m4 0h1m1 1h1m-8 1h1m3 0h1m2 0h1h1m-8 1h1h1m1 0h1m2 0h1m-8 1h1m2 0h1m4 0h1m-7 1h1m5 0h1m-6 1h1m4 0h1m1 0h1m1 1h1m-14 1h1m1 0h1m-2 1h1m2 0h1h1m-6 1h1m4 0h1m1 0h1m-6 1h1h1m2 0h1h1h1m-1 1h1m-4 3h1m1 0h1h1m-4 1h1m1 0h1m3 0h1m-8 1h1m1 0h1m-7 1h1m0 1h1h1h1m1 0h1m1 0h1h1m1 1h1m-8 1h1h1m-5 1h1m3 0h1m1 0h1m-4 1h1m3 1h1m1 0h1m1 1h1m-8 1h1m-2 1h1m1 0h1m-5 1h1m1 0h1m1 1h1m1 0h1m-1 1h1m-6 2h1" stroke="#aaaaaa" stroke-width="1" fill="none"/>
<path d="M285 184.5h1m-3 2h1m1 0h1m-3 3h1m-8 1h1m-21 2h1m1 6h1m-4 1h1m28 1h1m-25 1h1m12 0h1m-15 2h1m33 0h1m-23 2h1m-15 1h1h1m3 0h1m-4 1h1m15 0h1m0 4h1m-1 3h1m3 1h1m11 1h1m-19 3h1m2 1h1m-1 1h1m8 1h1m-5 1h1m3 0h1m3 0h1m-36 2h1m25 0h1m-25 2h1m3 0h1m12 0h1m1 0h1m-16 1h1m11 1h1m10 3h1m-28 1h1m2 0h1m1 0h1m-2 5h1m-5 2h1m4 2h1m13 1h1m-22 5h1m4 2h1m14 0h1m-19 2h1m3 0h1m-6 3h1m18 1h1m6 0h1m-4 1h1m-4 1h1" stroke="#959595" stroke-width="1" fill="none"/>
<path d="M272 184.5h1m1 0h1m5 0h1m1 0h1m-11 1h1m12 0h1m-10 2h1m-2 2h1m4 0h1m-21 2h1m12 0h1m-3 1h1m5 0h1m2 0h1m-25 1h1m8 0h1m3 0h1m5 0h1m-8 1h1m3 0h1m-3 1h1m2 0h1m2 1h1m-17 1h1m3 0h1m7 2h1m-8 1h1m6 0h1m-15 1h1m8 0h1h1m2 0h1m2 0h1h1m3 0h1m5 0h1m-27 1h1m10 0h1m17 0h1m-20 1h1h1m-10 1h1m-2 1h1m2 1h1m-7 1h1m20 0h1m-8 1h1m-14 1h1m1 0h1m3 0h1m4 0h1m15 0h1m-28 1h1m11 0h1m-17 1h1m12 1h1m0 1h1m2 0h1h1m-5 2h1m10 0h1m-10 1h1m3 0h1m6 0h1m-12 1h1m5 0h1h1m-3 1h1m-6 2h1m-11 1h1m13 0h1m-14 1h1m16 0h1m-24 1h1m18 0h1h1m1 0h1m14 0h1m-31 1h1m13 0h1m-16 1h1h1h1m-7 1h1m4 0h1m10 0h1m-19 1h1m8 0h1m7 0h1m-19 1h1m18 0h1m-20 1h1m-1 1h1m6 0h1m3 0h1m6 0h1m-17 1h1m4 0h1m2 0h1m8 0h1m-20 1h1m19 0h1m-1 1h1m2 0h1m-16 2h1h1h1h1m7 0h1m-10 2h1m-10 1h1m21 0h1m-23 1h1h1m8 0h1m5 0h1m-17 1h1m15 2h1m-9 1h1m7 0h1m-1 1h1m-18 1h1m8 0h1m-8 2h1m6 0h1m-5 3h1m3 2h1m7 0h1h1m-12 1h1m-1 1h1m1 0h1m-6 1h1m13 0h1m-17 2h1m16 0h1m2 0h1m-20 1h1m14 0h1" stroke="#808080" stroke-width="1" fill="none"/>
<path d="M255 183.5h1m3 0h1m4 0h1m3 0h1h1m1 0h1m-10 1h1h1m15 0h1m-4 1h1m-18 1h1m6 0h1m1 0h1m20 0h1m-35 1h1m16 0h1m2 0h1m5 0h1m-26 1h1m2 0h1h1m3 0h1m9 0h1m5 0h1m-23 1h1m1 0h1m4 0h1m1 0h1m3 0h1m9 0h1m-23 1h1m1 0h1m-3 1h1m4 0h1m2 0h1h1m20 0h1m-22 1h1m3 0h1m1 0h1m-20 1h1m15 0h1m4 0h1m-14 1h1m3 0h1m-13 1h1m2 0h1m3 0h1m3 0h1m24 0h1m-32 1h1m5 0h1m2 0h1m-16 1h1m3 0h1m9 0h1m3 0h1m-4 1h1m2 0h1m-14 1h1m1 0h1m3 0h1m3 0h1m-15 1h1m2 0h1m3 0h1m-9 1h1m2 0h1m12 0h1m-10 1h1h1m10 0h1m-17 1h1h1m4 0h1m1 0h1m2 0h1m-10 1h1m2 0h1m5 0h1m6 0h1m-19 1h1m3 0h1m6 0h1m1 0h1m-11 1h1m3 0h1m2 1h1h1h1m-15 1h1m1 0h1h1m2 0h1m1 0h1h1m1 0h1h1m2 0h1m8 0h1m-23 1h1m9 0h1m4 0h1m16 0h1m-28 1h1m3 0h1m1 0h1m-10 1h1h1m2 0h1m5 0h1m4 0h1m2 0h1m-15 1h1m4 0h1m1 0h1m-17 1h1m1 1h1m4 0h1m3 0h1m12 0h1m-23 1h1m3 0h1m8 0h1m-13 1h1m3 0h1m2 0h1m6 0h1m4 0h1m-23 1h1m1 0h1m2 0h1m3 0h1m16 0h1m-16 1h1h1m10 0h1m-24 1h1m2 0h1m14 0h1m-18 1h1m6 0h1m22 0h1m2 0h1m-30 1h1m2 0h1m3 0h1m3 0h1h1m6 0h1m-24 1h1m8 0h1m4 0h1m9 0h1m-22 1h1m1 0h1m2 0h1m2 0h1h1m1 0h1m9 0h1m-25 1h1m2 0h1h1m6 0h1m2 0h1m1 0h1m9 0h1m-23 1h1m5 0h1m6 0h1m-19 1h1m15 0h1m10 0h1m-28 1h1m1 1h1m6 1h1m2 0h1m-7 2h1m-2 1h1m6 0h1m-12 1h1m5 0h1m3 0h1m5 0h1m-17 1h1m16 0h1m-16 1h1m10 0h1m-6 1h1m3 0h1h1m-2 1h1m4 0h1m-10 1h1m5 0h1m-9 1h1m7 0h1m2 0h1m-19 1h1m6 0h1m8 0h1h1m-14 1h1m6 0h1m1 0h1h1m4 0h1m-20 1h1m13 0h1m-6 2h1m-5 2h1m6 0h1m-6 1h1m2 0h1m3 0h1m3 0h1m-5 1h1m-7 1h1m2 0h1m1 0h1h1m-14 1h1m11 1h1m-3 1h1m2 0h1m-15 1h1m5 0h1m3 0h1m5 0h1m-15 1h1m5 0h1m-9 1h1h1m10 0h1m8 0h1m-21 1h1m2 0h1m8 0h1m-13 1h1m5 0h1m10 0h1m-8 1h1m2 0h1h1m1 0h1" stroke="#6a6a6a" stroke-width="1" fill="none"/>
<path d="M257 183.5h1m5 0h1m1 0h1m-6 1h1m3 0h1h1h1m6 0h1m-9 1h1m3 0h1m8 0h1h1m-25 1h1m2 0h1m1 0h1m1 0h1h1h1m6 0h1m9 0h1m-26 1h1h1m2 0h1m2 0h1h1m2 0h1m1 0h1m-15 1h1m5 0h1m1 0h1m4 0h1m6 0h1m-21 1h1h1m7 0h1m14 0h1m-24 1h1m3 0h1m2 0h1m1 0h1h1h1m1 0h1m-14 1h1h1m4 0h1m2 0h1m4 0h1m-17 1h1m9 0h1m-8 1h1m4 0h1h1m6 0h1m-15 1h1m3 0h1m3 0h1m1 0h1m-11 1h1m3 0h1m4 1h1m5 0h1m-11 1h1m5 0h1m3 0h1m2 0h1m-18 1h1m5 0h1h1m5 0h1m2 0h1m-18 1h1m5 0h1m-6 1h1m3 0h1m5 0h1m-12 1h1m2 0h1m3 0h1m5 0h1m-1 1h1m1 0h1m-18 1h1m3 1h1m14 0h1m-11 1h1m-8 1h1m2 0h1m11 0h1m-16 1h1m8 0h1m-12 1h1m4 0h1h1m7 0h1h1m-16 1h1h1m10 0h1m-6 1h1m3 0h1m0 1h1m3 0h1m2 0h1m-15 1h1m4 0h1m7 0h1m-15 1h1m2 0h1m7 0h1m-16 1h1m0 1h1m1 0h1m9 0h1m-14 1h1m1 0h1m2 0h1m9 0h1m3 0h1m-8 1h1h1m3 0h1m9 0h1m-28 1h1m7 0h1m5 0h1m4 0h1m-19 1h1m9 0h1h1m4 0h1m-18 1h1m1 0h1m10 0h1h1m3 0h1m2 1h1m4 0h1m-27 1h1m2 0h1h1m4 0h1m4 0h1m3 0h1m-16 1h1m4 0h1m2 0h1m-6 1h1m3 0h1m3 0h1m-13 1h1m16 0h1h1m-12 1h1m4 0h1m-1 1h1m2 0h1m-2 1h1m3 0h1m-20 1h1m0 1h1m14 0h1m0 1h1m-12 1h1m7 0h1h1m-3 1h1m1 0h1m-8 1h1h1m1 0h1m1 0h1m1 0h1m-5 1h1m2 0h1m-15 1h1m17 0h1m-8 1h1m2 0h1m-16 1h1m13 0h1m-15 1h1m10 1h1m1 0h1m4 0h1m-3 1h1m-16 1h1m7 0h1m-10 1h1h1m5 0h1m3 0h1m-5 1h1m7 0h1h1m-7 1h1h1m3 0h1m-15 1h1m9 0h1m2 0h1m-15 1h1m10 0h1m3 2h1m1 0h1m-2 1h1m-17 1h1m5 0h1m9 0h1m-17 1h1m12 0h1m-5 1h1m1 0h1m-1 1h1m3 0h1m-8 1h1h1m-10 1h1m1 0h1m2 0h1m5 0h1h1m10 0h1m-24 1h1m3 0h1m15 0h1m-17 1h1m5 0h1m1 0h1m7 0h1" stroke="#555555" stroke-width="1" fill="none"/>
<path d="M260 183.5h1m1 0h1m4 0h1m-11 1h1m3 0h1m5 0h1m3 0h1m-14 1h1m11 0h1m3 0h1h1m-22 1h1m1 0h1m4 0h1m5 0h1m5 0h1m6 0h1m-27 1h1m3 0h1h1m2 0h1m2 0h1h1m-9 1h1m3 0h1m2 0h1m1 0h1m2 0h1m2 0h1m-15 1h1m10 0h1m-16 1h1m12 0h1m1 0h1m-16 1h1m10 0h1m2 0h1m-9 1h1m5 0h1m1 0h1m-10 1h1m-7 1h1m2 0h1m4 0h1m6 0h1m-13 1h1m1 0h1m7 0h1h1m-13 1h1m4 0h1h1m1 0h1m7 0h1m-17 1h1m6 0h1m1 0h1h1m2 0h1h1m-12 1h1m6 0h1h1m-5 1h1h1m2 0h1m1 1h1h1m-16 1h1m5 0h1h1m2 0h1h1m-3 1h1h1m-11 1h1m4 0h1m3 0h1m-8 1h1m5 0h1m1 0h1m1 0h1m-13 1h1m2 0h1m6 0h1m1 0h1m-13 1h1m11 0h1m-5 1h1h1m0 1h1m2 1h1m-15 1h1m8 0h1m-8 1h1m8 0h1m1 0h1m-14 1h1m0 1h1m1 0h1m7 0h1m-9 1h1m1 0h1m6 0h1m-9 1h1m4 0h1m-9 1h1m4 0h1m2 0h1m-9 1h1m1 0h1h1m3 0h1m5 0h1m-13 1h1h1h1h1m4 0h1m2 0h1m2 0h1h1m2 0h1m-12 1h1m3 0h1m-9 1h1m1 0h1m11 0h1m-18 1h1m6 0h1m5 0h1m-10 1h1m4 0h1m4 0h1m4 0h1m-12 1h1m7 0h1m-17 1h1m4 0h1m1 0h1m8 0h1m1 0h1m-21 1h1m12 0h1h1m1 0h1m-7 1h1h1h1h1m-5 1h1m2 0h1m-3 2h1m7 0h1m-7 1h1m1 0h1h1m-5 1h1m5 1h1m-8 1h1m7 0h1m-4 1h1m3 0h1m-20 1h1m16 0h1m-7 1h1h1m4 0h1m-4 1h1m-4 1h1m1 0h1m3 0h1m-4 1h1m1 0h1m-3 1h1m-5 1h1m4 0h1m-6 1h1m1 0h1h1m2 0h1m-7 1h1m2 0h1m-6 1h1m2 0h1m5 1h1m-5 1h1m-5 2h1m2 0h1m-1 1h1m-13 1h1m10 0h1m3 0h1m-8 1h1h1h1m-1 1h1m5 0h1m-5 1h1h1m-14 1h1m5 1h1m9 0h1m-8 1h1m5 0h1h1m1 0h1m-16 1h1m2 0h1m5 0h1m4 0h1m-18 1h1m5 0h1m2 0h1" stroke="#404040" stroke-width="1" fill="none"/>
<path d="M256 183.5h1m1 0h1m16 0h1m-22 1h1m3 0h1m9 0h1m-14 1h1h1h1m4 0h1m3 0h1m1 0h1m4 0h1m-17 1h1m12 0h1m3 0h1m-14 1h1m6 0h1m1 0h1m3 0h1m-18 2h1m3 0h1m12 0h1m-21 1h1m7 0h1m-5 1h1m-1 1h1h1h1m1 0h1h1m2 0h1m-13 1h1m6 0h1m4 0h1h1m4 0h1m-15 1h1h1m1 0h1m9 0h1m-11 1h1m7 0h1m-15 1h1m1 0h1m1 1h1m2 0h1m-7 1h1m5 0h1m2 0h1m-8 1h1m11 0h1m-15 1h1m2 0h1m3 0h1m2 0h1m1 0h1m-15 2h1m2 0h1m9 0h1m-12 1h1m10 0h1m-12 1h1m9 0h1m-13 1h1m4 0h1m4 0h1m1 1h1m-13 1h1m5 0h1m1 0h1m-1 1h1m-7 1h1m2 0h1m1 0h1m-2 1h1m3 0h1m-4 1h1m6 0h1m-13 1h1h1m3 0h1m4 0h1m-8 1h1m7 0h1m-8 1h1m6 0h1m1 0h1m-11 1h1m11 0h1m-10 1h1m2 0h1m-6 1h1h1m-1 1h1m1 0h1m8 0h1m-14 1h1m1 0h1m6 0h1h1h1m-14 1h1m2 0h1m-7 1h1m2 0h1h1m6 0h1m-4 1h1m5 1h1m1 0h1m-17 1h1m10 0h1m4 0h1m-5 1h1m2 0h1m-1 1h1m1 0h1m-5 1h1m-2 1h1m0 1h1h1h1m-16 2h1m11 0h1h1m3 0h1m-8 1h1m2 0h1m-14 1h1m12 1h1m-1 1h1m2 0h1m-1 2h1h1m-6 1h1m3 0h1m-7 1h1m2 0h1m-2 1h1m-13 1h1m16 0h1m-6 2h1m2 0h1m-4 1h1h1h1m-3 1h1m1 0h1m1 1h1m-4 1h1m-1 1h1m1 0h1h1m-17 1h1m8 0h1m2 1h1h1m3 0h1m-6 1h1m1 0h1h1m-4 1h1m-3 2h1m1 0h1m1 0h1m1 0h1m-7 1h1h1m-4 1h1m-4 1h1m3 0h1m3 0h1h1h1m-15 1h1m3 0h1m2 0h1m10 0h1" stroke="#2a2a2a" stroke-width="1" fill="none"/>
<path d="M254 183.5h1m6 0h1m4 0h1m3 0h1m-16 1h1h1m2 0h1m9 0h1m-16 1h1m4 0h1h1h1m1 0h1h1m2 0h1m3 0h1m-7 1h1m3 0h1m-16 2h1m2 0h1m8 0h1m4 0h1m-18 1h1m7 0h1h1m2 0h1m1 0h1h1m-13 1h1h1m5 0h1m-11 1h1m8 0h1m-9 1h1m1 0h1m7 0h1m-8 1h1m5 0h1m3 0h1m-14 1h1m9 0h1m-12 1h1m9 0h1h1m-11 2h1m1 0h1m-4 1h1h1m5 0h1m-8 1h1m2 0h1m2 0h1m3 1h1m-1 1h1m-9 1h1m3 0h1m2 0h1m4 0h1m-8 1h1m2 1h1m-9 1h1m11 1h1m-13 2h1m-2 2h1m2 1h1m3 0h1m1 0h1m-10 1h1m2 0h1m1 0h1m1 1h1h1m-6 1h1m3 0h1h1h1m-11 1h1m9 0h1h1m-8 1h1m7 0h1m-3 1h1h1m-11 1h1m4 0h1m-5 1h1m3 0h1m1 0h1m1 0h1m-7 1h1m4 0h1h1h1m1 1h1h1m-3 1h1h1m3 0h1m-18 1h1m16 0h1m-5 1h1m1 3h1m-3 1h1h1h1m-5 1h1m4 0h1m-4 1h1m2 0h1m-3 1h1h1m-2 1h1m-3 1h1m-2 1h1m3 2h1m-6 2h1m4 2h1m-4 1h1m3 2h1m-4 2h1m1 1h1m-4 1h1m2 0h1h1m-7 1h1h1m3 4h1m-2 1h1m-2 1h1m-1 1h1h1m-5 1h1m3 0h1m-5 1h1m5 0h1m-10 1h1m5 0h1m2 0h1" stroke="#151515" stroke-width="1" fill="none"/>
<path d="M123 307.5h1m29 9h1m-32 8h1m-1 1h1m26 2h1m-28 10h1h1m-1 1h1m2 0h1m-2 4h1m-4 3h1m0 1h1m2 1h1m-5 2h1m1 0h1m-3 2h1m21 0h1m-22 1h1m12 0h1m-12 1h1m17 0h1m-21 1h1m0 1h1m1 0h1m-3 1h1m3 1h1m1 0h1m-9 1h1m1 0h1m5 0h1h1m-7 1h1m1 0h1m7 0h1m3 0h1m-12 1h1h1m2 0h1m0 2h1m-11 1h1m2 0h1m41 0h1m-39 1h1m1 0h1m3 0h1m-15 1h1m8 0h1m-6 1h1m4 0h1m12 0h1m-22 1h1m7 0h1m2 0h1m10 0h1m4 0h1m7 0h1m6 0h1h1m1 0h1m13 0h1m-56 1h1m3 0h1m1 0h1m27 0h1m-33 1h1m6 0h1m5 0h1m8 0h1m15 0h1m1 0h1m3 0h1m-49 1h1h1m21 0h1m3 0h1m-25 1h1m14 0h1m9 0h1m1 0h1m1 0h1m-28 1h1h1m1 0h1m1 0h1h1h1m2 0h1m1 0h1m4 0h1m1 0h1m2 0h1h1m3 0h1m1 0h1m1 0h1m2 0h1m-35 1h1m1 0h1h1h1h1m12 0h1h1m3 0h1m9 0h1m11 0h1m-48 1h1h1m5 0h1m6 0h1m3 0h1m10 0h1h1m2 0h1m5 0h1m-37 1h1m14 0h1m8 0h1m10 0h1m-41 1h1m6 0h1m5 0h1m13 0h1m10 0h1m2 0h1m-43 1h1m3 0h1m4 0h1m3 0h1m2 0h1h1m6 0h1m1 0h1h1m5 0h1m21 0h1m5 0h1h1m-63 1h1m3 0h1m2 0h1m4 0h1m1 0h1m5 0h1m1 0h1h1m1 0h1m32 0h1" stroke="#999999" stroke-width="1" fill="none"/>
<path d="M122 329.5h1m10 0h1m-11 2h1m0 1h1m-2 2h1m11 0h1m-14 1h1h1m0 2h1m-3 1h1m1 1h1m-1 4h1h1m1 0h1m2 0h1m-9 1h1m6 0h1m-5 2h1m-1 2h1m5 0h1m4 1h1m-13 1h1m-1 1h1m1 1h1m-5 1h1m5 0h1m11 0h1m-19 1h1m3 0h1m-1 2h1m6 1h1m-5 1h1m0 1h1m-9 1h1m2 0h1m5 1h1m2 0h1m9 0h1m-23 1h1m2 0h1m2 0h1m3 0h1m9 0h1m1 0h1m-23 1h1m9 0h1m3 0h1m1 0h1m-17 1h1m8 0h1m2 0h1m-5 1h1m27 0h1m-17 1h1m19 0h1m7 0h1m-49 1h1m7 0h1m1 0h1m19 0h1m3 0h1m-31 1h1m11 0h1m21 0h1m1 0h1m-40 1h1m1 0h1m27 0h1m3 0h1m1 0h1m6 0h1m-45 1h1m8 0h1m4 0h1m6 0h1m-20 1h1m4 0h1h1m19 0h1h1h1m6 0h1m-32 1h1m5 0h1m4 0h1m5 0h1m17 0h1m-41 1h1h1m1 0h1m10 0h1m13 0h1m5 0h1m-36 1h1h1m3 0h1m2 0h1m5 0h1m10 0h1m5 0h1h1m10 0h1m-31 1h1m3 0h1m2 0h1m16 0h1m-35 1h1m4 0h1m14 0h1m1 0h1m1 0h1h1m4 0h1m29 0h1h1m-61 1h1m8 0h1h1h1m8 0h1m1 0h1m20 0h1h1m6 0h1m3 0h1m-41 1h1m1 0h1m7 0h1m1 0h1m1 0h1m1 0h1m8 0h1h1m1 0h1" stroke="#808080" stroke-width="1" fill="none"/>
<path d="M122 320.5h1m0 7h1m-2 4h1m1 0h1m-1 3h1m0 3h1m-1 1h1m-4 2h1h1m-2 1h1m2 0h1m-4 1h1m1 0h1m12 0h1m-5 1h1m-11 1h1h1m-1 4h1m3 0h1m-4 1h1m1 0h1m-3 1h1m5 1h1m1 0h1m-12 1h1m1 1h1m1 0h1m-3 1h1m6 0h1m-9 1h1m4 0h1m2 0h1h1m-10 1h1m-1 1h1h1m2 0h1m8 1h1h1m-14 2h1m-3 1h1h1h1m12 0h1m-15 1h1m17 0h1m45 0h1m-61 1h1m3 0h1m2 0h1m-9 1h1m8 0h1m2 0h1m-16 1h1m4 0h1m4 0h1m1 0h1m11 0h1m-26 1h1m2 0h1m3 0h1m5 0h1m16 0h1m7 0h1m-35 1h1h1m14 0h1m6 0h1m9 0h1m-37 1h1m5 0h1m4 0h1m1 0h1m2 0h1m7 0h1m4 0h1m-25 1h1m8 0h1m9 0h1m8 0h1m3 0h1h1m1 0h1m6 0h1m-43 1h1m4 0h1h1m9 0h1m9 0h1m2 0h1h1h1h1m-38 1h1m8 0h1m2 0h1m3 0h1m28 0h1h1m-46 1h1m4 0h1m2 0h1m8 0h1m4 0h1m7 0h1h1m2 0h1m-37 1h1m5 0h1m11 0h1h1m3 0h1m6 0h1m2 0h1h1m7 0h1h1m-35 1h1m8 0h1h1m2 0h1m5 0h1m25 0h1m-54 1h1m1 0h1h1m6 0h1m11 0h1m2 0h1m1 0h1m6 0h1m6 0h1h1m-44 1h1h1m5 0h1m8 0h1m2 0h1m48 0h1m-69 1h1m9 0h1m21 0h1m9 0h1m7 0h1m9 0h1m-60 1h1m12 0h1m12 0h1m8 0h1h1m5 0h1m15 0h1" stroke="#666666" stroke-width="1" fill="none"/>
<path d="M184 321.5h1m-61 7h1m-3 2h1m0 6h1m-2 3h1m4 0h1m3 2h1m53 0h1m-64 2h1m3 0h1m-2 1h1m2 0h1m8 1h1m-16 1h1m5 0h1m-2 2h1m3 1h1h1m-10 1h1m5 0h1m-6 2h1h1m-1 2h1m1 1h1m6 0h1m-13 1h1m3 2h1m8 0h1m-5 2h1m4 0h1m4 0h1m-15 1h1m8 0h1m-11 1h1m4 0h1m2 0h1h1m-11 1h1m2 0h1m31 0h1m-38 1h1h1m3 0h1m-2 1h1m6 0h1m3 0h1m12 0h1m17 0h1m-42 1h1m9 0h1m10 0h1m14 0h1m9 0h1m-40 1h1m-14 1h1m7 0h1m17 0h1m6 0h1h1m9 0h1m-45 1h1m4 0h1m2 0h1m2 0h1m12 0h1m1 0h1m3 0h1m-24 1h1m7 0h1m-11 1h1m9 0h1m6 0h1m13 0h1m4 0h1m12 0h1m-55 1h1h1m3 0h1m15 0h1m4 0h1m11 0h1m4 0h1m1 0h1h1m-44 1h1m1 0h1m1 0h1m6 0h1m2 0h1m3 0h1m6 0h1m3 0h1m4 0h1m11 0h1m6 0h1m-53 1h1m6 0h1m3 0h1m1 0h1m33 0h1m-52 1h1m4 0h1m13 0h1m1 0h1m3 0h1m4 0h1m10 0h1m-30 1h1h1m7 0h1m2 0h1m22 0h1m7 0h1m2 0h1m-57 1h1m2 0h1h1m2 0h1m11 0h1h1m5 0h1m5 0h1h1m2 0h1m28 0h1m-66 1h1m6 0h1m2 0h1h1m2 0h1m1 0h1m5 0h1m13 0h1m1 0h1m16 0h1m8 0h1h1" stroke="#4d4d4d" stroke-width="1" fill="none"/>
<path d="M122 321.5h1m3 0h1m-5 6h1m0 6h1h1m1 0h1m-3 3h1h1m6 4h1m-9 1h1m3 2h1m-6 2h1m0 1h1m-2 1h1m-2 1h1h1m2 0h1m-4 1h1m-2 1h1m5 0h1m-6 1h1m1 0h1m1 0h1m2 0h1m-4 1h1m-5 1h1m3 0h1m8 0h1m-12 2h1m3 0h1m-3 1h1m3 0h1m-10 1h1m3 0h1m2 0h1m-7 1h1m3 0h1m15 0h1m-22 1h1h1m4 0h1h1m-7 1h1m9 0h1m-6 1h1h1m2 0h1m2 0h1m-3 2h1m1 0h1m1 0h1m3 0h1m22 0h1m-41 2h1m1 0h1m2 0h1m2 0h1m8 0h1m7 0h1m4 0h1m-32 1h1m6 0h1m5 0h1m10 0h1m6 0h1m-31 1h1h1m12 0h1m34 0h1m7 0h1m-57 1h1m9 0h1m5 0h1m11 0h1h1m12 0h1h1m-38 1h1m3 0h1m7 0h1m-21 1h1h1m2 0h1m2 0h1m7 0h1m2 0h1m3 0h1m10 0h1m12 0h1m-48 1h1m2 0h1h1m20 0h1m1 0h1m-12 1h1m17 0h1m9 0h1m-36 1h1m10 0h1m1 0h1m1 0h1h1m12 0h1m1 0h1m-39 1h1h1m6 0h1m15 0h1h1m1 0h1m7 0h1m2 0h1m-34 1h1m4 0h1m1 0h1m1 0h1m5 0h1m4 0h1m-26 1h1m6 0h1m4 0h1m5 0h1m5 0h1m5 0h1m2 0h1h1h1m2 0h1m-40 1h1m6 0h1m2 0h1m5 0h1h1m6 0h1m37 0h1m-64 1h1m3 0h1h1h1m13 0h1m1 0h1m16 0h1m12 0h1m11 0h1" stroke="#333333" stroke-width="1" fill="none"/>
<path d="M321 341.5h1m13 0h1m-7 8h1m-39 10h1m24 2h1m-27 1h1m23 1h1m-7 1h1m-27 1h1m12 0h1h1m17 0h1m-35 1h1m12 0h1m20 0h1m-17 1h1m1 0h1m2 0h1m9 0h1m-34 2h1m10 0h1m5 0h1m8 0h1m8 0h1m-34 1h1m13 0h1h1m6 1h1m1 0h1m-23 2h1m16 0h1m8 0h1m2 0h1m-29 1h1m6 0h1m1 0h1m31 0h1m-45 1h1m3 0h1m3 0h1m1 0h1m8 0h1m4 0h1m17 1h1m-44 1h1m26 0h1m6 0h1m-27 1h1m6 0h1m2 0h1m-18 1h1m3 0h1m14 0h1h1h1m8 0h1" stroke="#cccccc" stroke-width="1" fill="none"/>
<path d="M339 337.5h1m-13 1h1m-20 8h1m18 0h1m-21 1h1m5 1h1m-22 1h1m1 4h1m17 4h1m-11 2h1m-12 1h1m7 2h1m-13 1h1m-5 1h1m14 0h1m27 0h1m-40 1h1m-2 1h1m8 0h1m5 0h1h1h1m-22 1h1m11 0h1m4 0h1m2 0h1m26 0h1m-47 1h1m14 0h1m6 0h1m5 0h1m11 0h1m-25 1h1m-10 1h1m1 0h1m6 0h1m-17 1h1m25 0h1m3 0h1m-16 1h1m2 0h1m3 0h1m10 0h1m12 0h1m-45 1h1m8 0h1m1 0h1h1m5 0h1m1 0h1m5 0h1m-10 1h1h1m2 0h1m-26 1h1m17 0h1h1m11 0h1m-32 1h1m3 0h1m2 0h1m26 0h1m2 0h1m-35 1h1h1m3 0h1m5 0h1m7 0h1h1m6 0h1m-27 1h1h1m7 0h1m21 0h1m5 0h1m-38 1h1m3 0h1m6 0h1h1h1" stroke="#b2b2b2" stroke-width="1" fill="none"/>
<path d="M299 320.5h1m27 19h1m-6 3h1m5 0h1m-7 1h1m-1 4h1m-7 1h1m-11 2h1m7 3h1m-31 3h1m18 3h1m13 1h1m-24 1h1m1 0h1m15 0h1m-19 1h1m9 1h1m1 1h1m-16 2h1m-7 1h1m7 0h1m-14 1h1m15 0h1m6 0h1m3 0h1m12 0h1m-38 1h1h1m5 0h1m7 0h1m1 0h1m7 0h1h1m12 0h1m5 0h1m-44 1h1m7 0h1h1h1m5 0h1m2 0h1m12 0h1m-37 1h1m7 0h1h1m9 0h1m29 0h1m-32 1h1m7 0h1m3 0h1m1 0h1m-25 1h1m12 0h1m15 0h1m-32 1h1m5 0h1m24 0h1m-36 1h1h1h1m5 0h1m23 0h1h1m-5 1h1m7 0h1m-41 2h1m12 0h1m7 0h1m4 0h1m-17 1h1m15 0h1" stroke="#999999" stroke-width="1" fill="none"/>
<path d="M136 433.5h1m-13 11h1m6 0h1m1 5h1m1 0h1m-6 1h1m65 0h1m-67 1h1m14 0h1m-13 1h1m-8 1h1m7 0h1m-6 1h1m3 0h1m2 0h1m-12 1h1m2 0h1m8 0h1m-16 1h1m1 0h1m1 0h1m2 0h1m2 0h1m2 0h1m20 0h1m-27 1h1m39 0h1m-40 1h1m1 0h1m1 0h1m-4 1h1m30 0h1m-35 1h1m4 0h1m-10 1h1h1m-3 1h1m8 0h1m26 0h1m6 0h1m-40 2h1m7 0h1m32 0h1m-40 1h1m-5 1h1m7 0h1m-4 1h1m5 0h1m-11 1h1m6 2h1m-7 1h1m1 1h1m1 0h1m-5 1h1m4 1h1m2 0h1m-10 1h1m3 0h1m3 0h1m31 0h1m-46 1h1m10 1h1m-5 1h1m17 0h1m17 0h1m-39 1h1m-1 1h1m9 0h1m2 0h1m0 1h1m13 0h1m4 0h1m20 0h1m1 0h1m-50 1h1m7 0h1m14 0h1m-25 1h1m3 0h1m12 0h1m7 0h1m-36 1h1m3 0h1h1m6 0h1m3 0h1m4 0h1m5 0h1m-14 1h1h1h1m1 0h1m23 0h1m-44 1h1h1m6 0h1m19 0h1m4 0h1m2 0h1m17 0h1m-46 1h1m5 0h1m23 0h1m-31 1h1h1m7 0h1m6 0h1m6 0h1m1 0h1m-32 1h1m2 0h1m3 0h1h1h1m2 0h1m10 0h1m16 0h1m-28 1h1h1m2 0h1m11 0h1m-25 1h1m1 0h1m2 0h1m3 0h1m11 0h1m1 0h1m-16 1h1m13 0h1m4 0h1m-36 1h1h1m4 0h1m11 0h1h1m5 0h1m7 0h1m2 0h1m11 0h1m19 0h1m-68 1h1m4 0h1m6 0h1m4 0h1h1m8 0h1" stroke="#b2b2b2" stroke-width="1" fill="none"/>
<path d="M156 423.5h1m-9 12h1m-16 9h1m-10 5h1m0 1h1m2 1h1m2 0h1m-7 1h1m6 0h1m-3 1h1m11 0h1m-19 1h1m5 0h1m-5 1h1m3 0h1m3 0h1m33 0h1m-42 1h1m10 0h1m-11 1h1h1m37 0h1m-38 1h1m-1 1h1m3 0h1m-3 1h1m2 0h1m40 0h1m-50 1h1m3 0h1m1 0h1m25 0h1m9 0h1m-44 1h1m46 0h1m-52 1h1h1m6 0h1m-5 1h1m2 0h1h1m0 1h1m-2 1h1m3 1h1m-5 1h1m1 0h1m-8 1h1m47 2h1m-51 3h1m11 0h1m24 0h1m29 0h1m-8 1h1m-33 1h1m14 1h1m-17 3h1m2 0h1m-12 1h1m2 0h1m-19 1h1m2 0h1m6 0h1m21 0h1m30 0h1m-66 1h1h1h1m6 0h1m4 0h1h1m10 0h1m2 0h1m24 0h1m2 0h1m-52 1h1h1m8 0h1h1m3 0h1m4 0h1m-23 1h1m3 0h1m2 0h1m13 0h1h1h1m-26 1h1m1 0h1m6 0h1m1 0h1h1m4 0h1m2 0h1m9 0h1m28 0h1m-64 1h1m1 0h1m8 0h1m3 0h1m10 0h1h1m1 0h1m11 0h1m-42 1h1m19 0h1m2 0h1m6 0h1m-19 1h1m2 0h1m1 0h1m1 0h1m3 0h1m16 0h1m3 0h1m10 0h1m-43 1h1m6 1h1m1 0h1m2 0h1m1 0h1m13 0h1m-40 1h1m1 0h1m2 0h1m2 0h1m8 0h1m6 0h1m8 0h1m-30 1h1m2 0h1m15 0h1m11 0h1h1m6 0h1m-32 1h1m1 0h1m3 0h1m1 0h1h1m1 0h1m10 0h1" stroke="#999999" stroke-width="1" fill="none"/>
<path d="M154 446.5h1m-31 1h1m46 1h1m-36 2h1m-12 1h1m8 0h1m-13 1h1m11 0h1m-3 1h1m-8 1h1m6 0h1m2 0h1m4 0h1m4 0h1m-15 1h1m3 0h1m-8 1h1m5 0h1m27 0h1m1 0h1m-40 1h1h1m6 0h1h1m6 0h1m-13 1h1m-7 1h1m2 0h1m10 0h1m3 0h1m-16 1h1m20 0h1m18 1h1m22 0h1m-63 2h1m-4 1h1m7 1h1m36 0h1m-41 2h1m8 1h1m56 0h1m-62 3h1m-5 4h1m9 0h1m-7 2h1m7 0h1m-17 3h1m4 0h1m6 0h1m-13 1h1m2 0h1h1m7 0h1m-16 1h1m15 0h1m6 0h1m-18 1h1m6 0h1m6 0h1m1 0h1h1m22 0h1m5 0h1m-52 1h1h1h1m18 0h1m8 0h1m-30 1h1h1m8 0h1m6 0h1m11 0h1m4 0h1h1m-36 1h1m11 0h1m2 0h1h1m4 0h1m6 0h1m-24 1h1m2 0h1m1 0h1m15 0h1m6 0h1m-34 1h1m1 0h1h1m1 0h1m3 0h1m2 0h1m21 0h1m6 0h1m24 0h1m-70 1h1h1m6 0h1m5 0h1m2 0h1m1 0h1m18 0h1m-38 1h1m2 0h1h1m1 0h1h1h1m2 0h1m2 0h1m6 0h1h1m4 0h1m17 0h1m-45 1h1m1 0h1h1m6 0h1m7 0h1m3 0h1m10 0h1m-36 1h1m13 0h1m2 0h1m3 0h1h1h1h1m1 0h1m2 0h1m2 0h1m-25 1h1m3 0h1m3 0h1m3 0h1m2 0h1m29 0h1h1m-53 1h1m13 0h1m3 0h1m1 0h1m2 0h1m4 0h1m3 0h1m1 0h1m4 0h1m15 0h1" stroke="#808080" stroke-width="1" fill="none"/>
<path d="M132 444.5h1m2 2h1m-1 1h1m-3 1h1m-8 3h1m14 1h1m-16 2h1m48 0h1m-49 1h1m2 1h1m63 0h1m-64 1h1m5 0h1m26 0h1m-42 1h1m1 0h1m2 0h1m3 0h1m41 0h1m-47 2h1m7 0h1m16 0h1m-19 2h1m13 1h1m15 0h1m-35 1h1m14 2h1m20 0h1m-43 2h1m-2 2h1m8 0h1m4 2h1m4 0h1m-22 1h1h1m-2 1h1m4 0h1m31 0h1m0 1h1m-36 1h1m15 0h1m-11 1h1m14 0h1m13 0h1m-10 1h1m32 0h1m-63 1h1m7 0h1m1 0h1m7 0h1m3 0h1m-17 1h1m5 0h1m9 0h1m1 0h1m26 0h1m11 0h1m2 0h1m-56 1h1m17 0h1h1h1m-28 1h1m4 0h1h1m5 0h1m6 0h1m5 0h1m-20 1h1m8 0h1m5 0h1m11 0h1m-27 1h1m6 0h1m15 0h1h1h1m29 0h1m-66 1h1h1m2 0h1m15 0h1m1 0h1h1m2 0h1m13 0h1m9 0h1m-46 1h1m4 0h1m11 0h1m13 0h1m22 0h1m-57 1h1h1m1 0h1m14 0h1m1 0h1m7 0h1m4 0h1h1m1 0h1m-30 1h1m1 0h1m6 0h1m12 0h1m2 0h1m1 0h1m-34 1h1m15 0h1m3 0h1m2 0h1m1 0h1m5 0h1m-37 1h1m17 0h1m6 0h1m1 0h1m1 0h1h1m-28 1h1m3 0h1m8 0h1m1 0h1m14 0h1h1m-28 1h1m1 0h1m2 0h1m5 0h1m31 0h1h1m7 0h1m-57 1h1m1 0h1m3 0h1m4 0h1m9 0h1m3 0h1m1 0h1m-23 1h1m1 0h1h1m2 0h1m12 0h1m4 0h1m10 0h1" stroke="#666666" stroke-width="1" fill="none"/>
<path d="M125 449.5h1m-2 1h1m6 0h1m0 1h1m8 0h1m-15 2h1m3 3h1m8 2h1m-10 2h1m-7 3h1h1m9 0h1m-11 5h1m35 0h1m-20 1h1m-21 9h1m25 1h1m-15 2h1m11 0h1m-1 1h1m-5 2h1m-9 2h1m12 0h1m7 0h1m-29 1h1m16 0h1m-24 1h1m15 0h1h1m40 0h1m-36 1h1m8 0h1m17 0h1m-41 1h1m8 0h1m-5 1h1m11 0h1m-6 2h1m20 0h1m-40 1h1m2 0h1" stroke="#4d4d4d" stroke-width="1" fill="none"/>
<path d="M296 474.5h1m-11 1h1m13 0h1m-6 1h1m2 1h1m4 0h1m-11 3h1m-2 1h1m1 0h1m3 1h1h1m-9 2h1m5 0h1m-4 1h1m3 0h1m-7 1h1m1 0h1m-4 1h1m2 1h1m-3 2h1m-2 2h1m-4 1h1m2 2h1m4 0h1" stroke="#b2b2b2" stroke-width="1" fill="none"/>
<path d="M289 440.5h1m9 31h1m4 0h1m-9 1h1m8 0h1m-8 1h1m-11 2h1m3 2h1m2 1h1m-5 1h1h1m1 0h1h1m30 0h1m-37 2h1m4 0h1m-4 1h1m1 0h1m5 0h1m-12 2h1m6 1h1m-5 2h1m1 0h1m-3 1h1m3 1h1m-10 2h1m11 0h1m-3 2h1" stroke="#999999" stroke-width="1" fill="none"/>
<path d="M300 464.5h1m2 4h1m-9 2h1m5 6h1m-15 1h1m6 0h1m5 0h1m-13 1h1m8 0h1m-4 2h1h1m1 0h1m-16 2h1m14 0h1m-12 1h1m1 0h1m3 0h1m5 0h1m-9 1h1m5 0h1m3 0h1m2 0h1m-15 1h1m5 0h1m-9 1h1m3 0h1m5 0h1h1m-4 1h1h1m-2 1h1m2 0h1m-10 1h1m8 0h1h1m-9 2h1m0 3h1m-3 1h1" stroke="#808080" stroke-width="1" fill="none"/>
<path d="M354 470.5h1m-61 3h1m10 0h1m-15 1h1m1 1h1m-3 1h1m1 0h1m-2 2h1m0 1h1m3 0h1m-8 1h1h1m6 0h1m-10 1h1m3 0h1m4 0h1h1m-5 1h1m-1 1h1m1 0h1m-11 1h1m6 0h1h1m-4 1h1m4 0h1m-10 1h1m4 2h1m3 0h1m1 2h1m2 2h1m-8 1h1" stroke="#666666" stroke-width="1" fill="none"/>
<path d="M305 471.5h1m-9 1h1m-1 2h1m3 1h1m-3 2h1m-2 1h1m1 0h1m-5 1h1m3 0h1m-9 1h1m3 0h1m3 0h1m3 0h1m-17 1h1m7 0h1m3 0h1m-11 1h1m2 0h1m7 0h1m-13 1h1m3 0h1h1m1 0h1m2 0h1h1m-13 2h1m1 1h1m4 0h1m-9 1h1m2 1h1m9 0h1m-7 1h1m-11 1h1m4 0h1m4 2h1m4 1h1" stroke="#4d4d4d" stroke-width="1" fill="none"/>
<path d="M112.5 177.5L112.5 256.5" stroke="#555" stroke-width="1"/>
<path d="M81.5 217.5L160.5 217.5" stroke="#555" stroke-width="1"/>
<rect x="81.5" y="177.5" width="79" height="79" stroke="#333" stroke-width="1" fill="none"/>
<path d="M81.5 177L81.5 257" stroke="#111" stroke-width="1"/>
<path d="M81 256.5L161 256.5" stroke="#111" stroke-width="1"/>
<text x="76.5" y="259.48" font-size="4.8" font-weight="bold" text-anchor="middle" fill="#222">10<tspan font-size="3.36" dy="-2.16">0</tspan></text>
<text x="83.04" y="265.94" font-size="4.8" font-weight="bold" text-anchor="middle" fill="#222">10<tspan font-size="3.36" dy="-2.16">0</tspan></text>
<text x="76.5" y="239.73" font-size="4.8" font-weight="bold" text-anchor="middle" fill="#222">10<tspan font-size="3.36" dy="-2.16">1</tspan></text>
<text x="102.74" y="265.94" font-size="4.8" font-weight="bold" text-anchor="middle" fill="#222">10<tspan font-size="3.36" dy="-2.16">1</tspan></text>
<text x="76.5" y="219.98" font-size="4.8" font-weight="bold" text-anchor="middle" fill="#222">10<tspan font-size="3.36" dy="-2.16">2</tspan></text>
<text x="122.44" y="265.94" font-size="4.8" font-weight="bold" text-anchor="middle" fill="#222">10<tspan font-size="3.36" dy="-2.16">2</tspan></text>
<text x="76.5" y="200.23" font-size="4.8" font-weight="bold" text-anchor="middle" fill="#222">10<tspan font-size="3.36" dy="-2.16">3</tspan></text>
<text x="142.14" y="265.94" font-size="4.8" font-weight="bold" text-anchor="middle" fill="#222">10<tspan font-size="3.36" dy="-2.16">3</tspan></text>
<text x="76.5" y="180.48" font-size="4.8" font-weight="bold" text-anchor="middle" fill="#222">10<tspan font-size="3.36" dy="-2.16">4</tspan></text>
<text x="161.84" y="265.94" font-size="4.8" font-weight="bold" text-anchor="middle" fill="#222">10<tspan font-size="3.36" dy="-2.16">4</tspan></text>
<path d="M79.5 256.5h2M81.5 256.5v2M79.5 236.5h2M101.5 256.5v2M79.5 217.5h2M121.5 256.5v2M79.5 197.5h2M140.5 256.5v2M79.5 177.5h2M160.5 256.5v2M80.5 250.5h1M87.5 256.5v1M80.5 247.5h1M90.5 256.5v1M80.5 244.5h1M93.5 256.5v1M80.5 242.5h1M95.5 256.5v1M80.5 241.5h1M96.5 256.5v1M80.5 239.5h1M98.5 256.5v1M80.5 238.5h1M99.5 256.5v1M80.5 237.5h1M100.5 256.5v1M80.5 230.5h1M107.5 256.5v1M80.5 227.5h1M110.5 256.5v1M80.5 224.5h1M113.5 256.5v1M80.5 222.5h1M115.5 256.5v1M80.5 221.5h1M116.5 256.5v1M80.5 220.5h1M117.5 256.5v1M80.5 218.5h1M119.5 256.5v1M80.5 217.5h1M120.5 256.5v1M80.5 211.5h1M126.5 256.5v1M80.5 207.5h1M130.5 256.5v1M80.5 205.5h1M132.5 256.5v1M80.5 203.5h1M134.5 256.5v1M80.5 201.5h1M136.5 256.5v1M80.5 200.5h1M137.5 256.5v1M80.5 199.5h1M138.5 256.5v1M80.5 198.5h1M139.5 256.5v1M80.5 191.5h1M146.5 256.5v1M80.5 187.5h1M150.5 256.5v1M80.5 185.5h1M152.5 256.5v1M80.5 183.5h1M154.5 256.5v1M80.5 181.5h1M156.5 256.5v1M80.5 180.5h1M157.5 256.5v1M80.5 179.5h1M158.5 256.5v1M80.5 178.5h1M159.5 256.5v1" stroke="#222" stroke-width="1"/>
<path d="M61.5 180.7L61.5 211.05" stroke="#333" stroke-width="1"/>
<path d="M61.5 233.55L61.5 274" stroke="#333" stroke-width="1"/>
<path d="M61.5 178.2L63.2 181.8L59.8 181.8Z" fill="#111"/>
<text x="64.63" y="222.3" font-size="8.7" font-weight="bold" text-anchor="middle" fill="#111" transform="rotate(-90 64.63 222.3)">GFP</text>
<path d="M61 273.5L104.45 273.5" stroke="#333" stroke-width="1"/>
<path d="M131.75 273.5L169.1 273.5" stroke="#333" stroke-width="1"/>
<path d="M171.6 273.5L168 271.8L168 275.2Z" fill="#111"/>
<text x="118.1" y="276.63" font-size="8.7" font-weight="bold" text-anchor="middle" fill="#111">CD34</text>
<text x="85.2" y="184.2" font-size="5" font-weight="bold" fill="#111">8.46</text>
<text x="159.2" y="184.2" font-size="5" font-weight="bold" text-anchor="end" fill="#111">75.8</text>
<text x="85" y="252.8" font-size="5" font-weight="bold" fill="#111">13.2</text>
<text x="159.2" y="252.8" font-size="5" font-weight="bold" text-anchor="end" fill="#111">2.53</text>
<path d="M283.5 181.5L283.5 259.5" stroke="#555" stroke-width="1"/>
<path d="M253.5 220.5L332.5 220.5" stroke="#555" stroke-width="1"/>
<rect x="253.5" y="181.5" width="79" height="78" stroke="#333" stroke-width="1" fill="none"/>
<path d="M253.5 181L253.5 260" stroke="#111" stroke-width="1"/>
<path d="M253 259.5L333 259.5" stroke="#111" stroke-width="1"/>
<text x="248.6" y="262.58" font-size="4.8" font-weight="bold" text-anchor="middle" fill="#222">10<tspan font-size="3.36" dy="-2.16">0</tspan></text>
<text x="254.84" y="268.44" font-size="4.8" font-weight="bold" text-anchor="middle" fill="#222">10<tspan font-size="3.36" dy="-2.16">0</tspan></text>
<text x="248.6" y="243.1" font-size="4.8" font-weight="bold" text-anchor="middle" fill="#222">10<tspan font-size="3.36" dy="-2.16">1</tspan></text>
<text x="274.54" y="268.44" font-size="4.8" font-weight="bold" text-anchor="middle" fill="#222">10<tspan font-size="3.36" dy="-2.16">1</tspan></text>
<text x="248.6" y="223.63" font-size="4.8" font-weight="bold" text-anchor="middle" fill="#222">10<tspan font-size="3.36" dy="-2.16">2</tspan></text>
<text x="294.24" y="268.44" font-size="4.8" font-weight="bold" text-anchor="middle" fill="#222">10<tspan font-size="3.36" dy="-2.16">2</tspan></text>
<text x="248.6" y="204.15" font-size="4.8" font-weight="bold" text-anchor="middle" fill="#222">10<tspan font-size="3.36" dy="-2.16">3</tspan></text>
<text x="313.94" y="268.44" font-size="4.8" font-weight="bold" text-anchor="middle" fill="#222">10<tspan font-size="3.36" dy="-2.16">3</tspan></text>
<text x="248.6" y="184.68" font-size="4.8" font-weight="bold" text-anchor="middle" fill="#222">10<tspan font-size="3.36" dy="-2.16">4</tspan></text>
<text x="333.64" y="268.44" font-size="4.8" font-weight="bold" text-anchor="middle" fill="#222">10<tspan font-size="3.36" dy="-2.16">4</tspan></text>
<path d="M251.5 259.5h2M253.5 259.5v2M251.5 240.5h2M273.5 259.5v2M251.5 220.5h2M292.5 259.5v2M251.5 201.5h2M312.5 259.5v2M251.5 181.5h2M332.5 259.5v2M252.5 253.5h1M259.5 259.5v1M252.5 250.5h1M262.5 259.5v1M252.5 247.5h1M265.5 259.5v1M252.5 245.5h1M267.5 259.5v1M252.5 244.5h1M268.5 259.5v1M252.5 243.5h1M270.5 259.5v1M252.5 242.5h1M271.5 259.5v1M252.5 241.5h1M272.5 259.5v1M252.5 234.5h1M279.5 259.5v1M252.5 230.5h1M282.5 259.5v1M252.5 228.5h1M284.5 259.5v1M252.5 226.5h1M286.5 259.5v1M252.5 224.5h1M288.5 259.5v1M252.5 223.5h1M289.5 259.5v1M252.5 222.5h1M290.5 259.5v1M252.5 221.5h1M291.5 259.5v1M252.5 214.5h1M298.5 259.5v1M252.5 211.5h1M302.5 259.5v1M252.5 208.5h1M304.5 259.5v1M252.5 207.5h1M306.5 259.5v1M252.5 205.5h1M308.5 259.5v1M252.5 204.5h1M309.5 259.5v1M252.5 203.5h1M310.5 259.5v1M252.5 202.5h1M311.5 259.5v1M252.5 195.5h1M318.5 259.5v1M252.5 191.5h1M321.5 259.5v1M252.5 189.5h1M324.5 259.5v1M252.5 187.5h1M326.5 259.5v1M252.5 186.5h1M327.5 259.5v1M252.5 184.5h1M329.5 259.5v1M252.5 183.5h1M330.5 259.5v1M252.5 182.5h1M331.5 259.5v1" stroke="#222" stroke-width="1"/>
<path d="M225.5 181.3L225.5 214.25" stroke="#333" stroke-width="1"/>
<path d="M225.5 236.75L225.5 276" stroke="#333" stroke-width="1"/>
<path d="M225.5 178.8L227.2 182.4L223.8 182.4Z" fill="#111"/>
<text x="228.63" y="225.5" font-size="8.7" font-weight="bold" text-anchor="middle" fill="#111" transform="rotate(-90 228.63 225.5)">GFP</text>
<path d="M225 275.5L269.65 275.5" stroke="#333" stroke-width="1"/>
<path d="M296.95 275.5L332.5 275.5" stroke="#333" stroke-width="1"/>
<path d="M335 275.5L331.4 273.8L331.4 277.2Z" fill="#111"/>
<text x="283.3" y="278.63" font-size="8.7" font-weight="bold" text-anchor="middle" fill="#111">CD34</text>
<rect x="255.7" y="183.52" width="13.25" height="5.98" stroke="none" stroke-width="0" fill="#fff"/>
<text x="256.5" y="188.2" font-size="5.2" font-weight="bold" fill="#111">18.9</text>
<text x="329.5" y="188.2" font-size="5.2" font-weight="bold" text-anchor="end" fill="#111">0.14</text>
<rect x="256.2" y="251.32" width="7.42" height="5.98" stroke="none" stroke-width="0" fill="#fff"/>
<text x="257" y="256" font-size="5.2" font-weight="bold" fill="#111">81</text>
<text x="329.5" y="256" font-size="5.2" font-weight="bold" text-anchor="end" fill="#111">0</text>
<path d="M149.5 303.5L149.5 380.5" stroke="#666" stroke-width="1"/>
<path d="M121.5 354.5L198.5 354.5" stroke="#666" stroke-width="1"/>
<rect x="121.5" y="303.5" width="77" height="77" stroke="#999" stroke-width="1" fill="none"/>
<path d="M121.5 303L121.5 381" stroke="#666" stroke-width="1"/>
<path d="M121 380.5L199 380.5" stroke="#666" stroke-width="1"/>
<text x="115.5" y="381.08" font-size="3.6" font-weight="bold" text-anchor="middle" fill="#222">10<tspan font-size="2.52" dy="-1.62">0</tspan></text>
<text x="122.08" y="386.68" font-size="3.6" font-weight="bold" text-anchor="middle" fill="#222">10<tspan font-size="2.52" dy="-1.62">0</tspan></text>
<text x="115.5" y="362" font-size="3.6" font-weight="bold" text-anchor="middle" fill="#222">10<tspan font-size="2.52" dy="-1.62">1</tspan></text>
<text x="141.33" y="386.68" font-size="3.6" font-weight="bold" text-anchor="middle" fill="#222">10<tspan font-size="2.52" dy="-1.62">1</tspan></text>
<text x="115.5" y="342.93" font-size="3.6" font-weight="bold" text-anchor="middle" fill="#222">10<tspan font-size="2.52" dy="-1.62">2</tspan></text>
<text x="160.58" y="386.68" font-size="3.6" font-weight="bold" text-anchor="middle" fill="#222">10<tspan font-size="2.52" dy="-1.62">2</tspan></text>
<text x="115.5" y="323.85" font-size="3.6" font-weight="bold" text-anchor="middle" fill="#222">10<tspan font-size="2.52" dy="-1.62">3</tspan></text>
<text x="179.83" y="386.68" font-size="3.6" font-weight="bold" text-anchor="middle" fill="#222">10<tspan font-size="2.52" dy="-1.62">3</tspan></text>
<text x="115.5" y="304.78" font-size="3.6" font-weight="bold" text-anchor="middle" fill="#222">10<tspan font-size="2.52" dy="-1.62">4</tspan></text>
<text x="199.08" y="386.68" font-size="3.6" font-weight="bold" text-anchor="middle" fill="#222">10<tspan font-size="2.52" dy="-1.62">4</tspan></text>
<path d="M119.5 380.5h2M121.5 380.5v2M119.5 360.5h2M140.5 380.5v2M119.5 341.5h2M159.5 380.5v2M119.5 322.5h2M178.5 380.5v2M119.5 303.5h2M198.5 380.5v2M120.5 374.5h1M126.5 380.5v1M120.5 370.5h1M130.5 380.5v1M120.5 368.5h1M132.5 380.5v1M120.5 366.5h1M134.5 380.5v1M120.5 365.5h1M135.5 380.5v1M120.5 363.5h1M137.5 380.5v1M120.5 362.5h1M138.5 380.5v1M120.5 361.5h1M139.5 380.5v1M120.5 355.5h1M146.5 380.5v1M120.5 351.5h1M149.5 380.5v1M120.5 349.5h1M151.5 380.5v1M120.5 347.5h1M153.5 380.5v1M120.5 346.5h1M155.5 380.5v1M120.5 344.5h1M156.5 380.5v1M120.5 343.5h1M157.5 380.5v1M120.5 342.5h1M158.5 380.5v1M120.5 336.5h1M165.5 380.5v1M120.5 332.5h1M168.5 380.5v1M120.5 330.5h1M171.5 380.5v1M120.5 328.5h1M172.5 380.5v1M120.5 327.5h1M174.5 380.5v1M120.5 325.5h1M175.5 380.5v1M120.5 324.5h1M176.5 380.5v1M120.5 323.5h1M177.5 380.5v1M120.5 317.5h1M184.5 380.5v1M120.5 313.5h1M187.5 380.5v1M120.5 311.5h1M190.5 380.5v1M120.5 309.5h1M192.5 380.5v1M120.5 307.5h1M193.5 380.5v1M120.5 306.5h1M195.5 380.5v1M120.5 305.5h1M196.5 380.5v1M120.5 304.5h1M197.5 380.5v1" stroke="#555" stroke-width="1"/>
<path d="M105.5 303.2L105.5 332.4" stroke="#333" stroke-width="1"/>
<path d="M105.5 358.4L105.5 395" stroke="#333" stroke-width="1"/>
<path d="M105.5 300.7L107.2 304.3L103.8 304.3Z" fill="#111"/>
<text x="108.56" y="345.4" font-size="8.5" font-weight="bold" text-anchor="middle" fill="#111" transform="rotate(-90 108.56 345.4)">CD56</text>
<path d="M105 394.5L147.75 394.5" stroke="#333" stroke-width="1"/>
<path d="M174.65 394.5L205.5 394.5" stroke="#333" stroke-width="1"/>
<path d="M208 394.5L204.4 392.8L204.4 396.2Z" fill="#111"/>
<text x="161.2" y="395.1" font-size="8.5" font-weight="bold" text-anchor="middle" fill="#111">CD19</text>
<path d="M304.5 305.5L304.5 381.5" stroke="#666" stroke-width="1"/>
<path d="M278.5 356.5L355.5 356.5" stroke="#666" stroke-width="1"/>
<rect x="278.5" y="305.5" width="77" height="76" stroke="#999" stroke-width="1" fill="none"/>
<path d="M278.5 305L278.5 382" stroke="#666" stroke-width="1"/>
<path d="M278 381.5L356 381.5" stroke="#666" stroke-width="1"/>
<text x="273" y="382.05" font-size="3.5" font-weight="bold" text-anchor="middle" fill="#222">10<tspan font-size="2.45" dy="-1.57">0</tspan></text>
<text x="279.65" y="387.05" font-size="3.5" font-weight="bold" text-anchor="middle" fill="#222">10<tspan font-size="2.45" dy="-1.57">0</tspan></text>
<text x="273" y="363.18" font-size="3.5" font-weight="bold" text-anchor="middle" fill="#222">10<tspan font-size="2.45" dy="-1.57">1</tspan></text>
<text x="298.85" y="387.05" font-size="3.5" font-weight="bold" text-anchor="middle" fill="#222">10<tspan font-size="2.45" dy="-1.57">1</tspan></text>
<text x="273" y="344.3" font-size="3.5" font-weight="bold" text-anchor="middle" fill="#222">10<tspan font-size="2.45" dy="-1.57">2</tspan></text>
<text x="318.05" y="387.05" font-size="3.5" font-weight="bold" text-anchor="middle" fill="#222">10<tspan font-size="2.45" dy="-1.57">2</tspan></text>
<text x="273" y="325.43" font-size="3.5" font-weight="bold" text-anchor="middle" fill="#222">10<tspan font-size="2.45" dy="-1.57">3</tspan></text>
<text x="337.25" y="387.05" font-size="3.5" font-weight="bold" text-anchor="middle" fill="#222">10<tspan font-size="2.45" dy="-1.57">3</tspan></text>
<text x="273" y="306.55" font-size="3.5" font-weight="bold" text-anchor="middle" fill="#222">10<tspan font-size="2.45" dy="-1.57">4</tspan></text>
<text x="356.45" y="387.05" font-size="3.5" font-weight="bold" text-anchor="middle" fill="#222">10<tspan font-size="2.45" dy="-1.57">4</tspan></text>
<path d="M276.5 381.5h2M278.5 381.5v2M276.5 362.5h2M297.5 381.5v2M276.5 343.5h2M317.5 381.5v2M276.5 324.5h2M336.5 381.5v2M276.5 305.5h2M355.5 381.5v2M277.5 375.5h1M284.5 381.5v1M277.5 371.5h1M287.5 381.5v1M277.5 369.5h1M290.5 381.5v1M277.5 367.5h1M292.5 381.5v1M277.5 366.5h1M293.5 381.5v1M277.5 365.5h1M294.5 381.5v1M277.5 363.5h1M295.5 381.5v1M277.5 362.5h1M296.5 381.5v1M277.5 356.5h1M303.5 381.5v1M277.5 353.5h1M306.5 381.5v1M277.5 350.5h1M309.5 381.5v1M277.5 348.5h1M311.5 381.5v1M277.5 347.5h1M312.5 381.5v1M277.5 346.5h1M314.5 381.5v1M277.5 345.5h1M315.5 381.5v1M277.5 344.5h1M316.5 381.5v1M277.5 337.5h1M322.5 381.5v1M277.5 334.5h1M326.5 381.5v1M277.5 331.5h1M328.5 381.5v1M277.5 330.5h1M330.5 381.5v1M277.5 328.5h1M331.5 381.5v1M277.5 327.5h1M333.5 381.5v1M277.5 326.5h1M334.5 381.5v1M277.5 325.5h1M335.5 381.5v1M277.5 318.5h1M341.5 381.5v1M277.5 315.5h1M345.5 381.5v1M277.5 313.5h1M347.5 381.5v1M277.5 311.5h1M349.5 381.5v1M277.5 309.5h1M351.5 381.5v1M277.5 308.5h1M352.5 381.5v1M277.5 307.5h1M353.5 381.5v1M277.5 306.5h1M354.5 381.5v1" stroke="#555" stroke-width="1"/>
<path d="M262.5 304.3L262.5 334.3" stroke="#333" stroke-width="1"/>
<path d="M262.5 360.3L262.5 397" stroke="#333" stroke-width="1"/>
<path d="M262.5 301.8L264.2 305.4L260.8 305.4Z" fill="#111"/>
<text x="265.56" y="347.3" font-size="8.5" font-weight="bold" text-anchor="middle" fill="#111" transform="rotate(-90 265.56 347.3)">CD56</text>
<path d="M262 396.5L305.55 396.5" stroke="#333" stroke-width="1"/>
<path d="M332.45 396.5L361 396.5" stroke="#333" stroke-width="1"/>
<path d="M363.5 396.5L359.9 394.8L359.9 398.2Z" fill="#111"/>
<text x="319" y="396.8" font-size="8.5" font-weight="bold" text-anchor="middle" fill="#111">CD19</text>
<path d="M143.5 420.5L143.5 496.5" stroke="#666" stroke-width="1"/>
<path d="M121.5 466.5L198.5 466.5" stroke="#666" stroke-width="1"/>
<rect x="121.5" y="420.5" width="77" height="76" stroke="#999" stroke-width="1" fill="none"/>
<path d="M121.5 420L121.5 497" stroke="#666" stroke-width="1"/>
<path d="M121 496.5L199 496.5" stroke="#666" stroke-width="1"/>
<text x="115.5" y="497.35" font-size="3.5" font-weight="bold" text-anchor="middle" fill="#222">10<tspan font-size="2.45" dy="-1.57">0</tspan></text>
<text x="122.05" y="501.45" font-size="3.5" font-weight="bold" text-anchor="middle" fill="#222">10<tspan font-size="2.45" dy="-1.57">0</tspan></text>
<text x="115.5" y="478.43" font-size="3.5" font-weight="bold" text-anchor="middle" fill="#222">10<tspan font-size="2.45" dy="-1.57">1</tspan></text>
<text x="141.3" y="501.45" font-size="3.5" font-weight="bold" text-anchor="middle" fill="#222">10<tspan font-size="2.45" dy="-1.57">1</tspan></text>
<text x="115.5" y="459.5" font-size="3.5" font-weight="bold" text-anchor="middle" fill="#222">10<tspan font-size="2.45" dy="-1.57">2</tspan></text>
<text x="160.55" y="501.45" font-size="3.5" font-weight="bold" text-anchor="middle" fill="#222">10<tspan font-size="2.45" dy="-1.57">2</tspan></text>
<text x="115.5" y="440.58" font-size="3.5" font-weight="bold" text-anchor="middle" fill="#222">10<tspan font-size="2.45" dy="-1.57">3</tspan></text>
<text x="179.8" y="501.45" font-size="3.5" font-weight="bold" text-anchor="middle" fill="#222">10<tspan font-size="2.45" dy="-1.57">3</tspan></text>
<text x="115.5" y="421.65" font-size="3.5" font-weight="bold" text-anchor="middle" fill="#222">10<tspan font-size="2.45" dy="-1.57">4</tspan></text>
<text x="199.05" y="501.45" font-size="3.5" font-weight="bold" text-anchor="middle" fill="#222">10<tspan font-size="2.45" dy="-1.57">4</tspan></text>
<path d="M119.5 496.5h2M121.5 496.5v2M119.5 477.5h2M140.5 496.5v2M119.5 458.5h2M159.5 496.5v2M119.5 439.5h2M178.5 496.5v2M119.5 420.5h2M198.5 496.5v2M120.5 490.5h1M126.5 496.5v1M120.5 487.5h1M130.5 496.5v1M120.5 484.5h1M132.5 496.5v1M120.5 483.5h1M134.5 496.5v1M120.5 481.5h1M135.5 496.5v1M120.5 480.5h1M137.5 496.5v1M120.5 479.5h1M138.5 496.5v1M120.5 478.5h1M139.5 496.5v1M120.5 471.5h1M146.5 496.5v1M120.5 468.5h1M149.5 496.5v1M120.5 465.5h1M151.5 496.5v1M120.5 464.5h1M153.5 496.5v1M120.5 462.5h1M155.5 496.5v1M120.5 461.5h1M156.5 496.5v1M120.5 460.5h1M157.5 496.5v1M120.5 459.5h1M158.5 496.5v1M120.5 452.5h1M165.5 496.5v1M120.5 449.5h1M168.5 496.5v1M120.5 447.5h1M171.5 496.5v1M120.5 445.5h1M172.5 496.5v1M120.5 443.5h1M174.5 496.5v1M120.5 442.5h1M175.5 496.5v1M120.5 441.5h1M176.5 496.5v1M120.5 440.5h1M177.5 496.5v1M120.5 433.5h1M184.5 496.5v1M120.5 430.5h1M187.5 496.5v1M120.5 428.5h1M190.5 496.5v1M120.5 426.5h1M192.5 496.5v1M120.5 424.5h1M193.5 496.5v1M120.5 423.5h1M195.5 496.5v1M120.5 422.5h1M196.5 496.5v1M120.5 421.5h1M197.5 496.5v1" stroke="#555" stroke-width="1"/>
<path d="M104.5 420.2L104.5 433.1" stroke="#333" stroke-width="1"/>
<path d="M104.5 496.1L104.5 513" stroke="#333" stroke-width="1"/>
<path d="M104.5 417.7L106.2 421.3L102.8 421.3Z" fill="#111"/>
<text x="107.56" y="464.6" font-size="8.5" font-weight="bold" text-anchor="middle" fill="#111" transform="rotate(-90 107.56 464.6)">Glycophorin A</text>
<path d="M104 512.5L147.9 512.5" stroke="#333" stroke-width="1"/>
<path d="M179.5 512.5L204.5 512.5" stroke="#333" stroke-width="1"/>
<path d="M207 512.5L203.4 510.8L203.4 514.2Z" fill="#111"/>
<text x="163.7" y="513.9" font-size="8.5" font-weight="bold" text-anchor="middle" fill="#111">CD11b</text>
<path d="M303.5 421.5L303.5 496.5" stroke="#666" stroke-width="1"/>
<path d="M281.5 466.5L358.5 466.5" stroke="#666" stroke-width="1"/>
<rect x="281.5" y="421.5" width="77" height="75" stroke="#999" stroke-width="1" fill="none"/>
<path d="M281.5 421L281.5 497" stroke="#666" stroke-width="1"/>
<path d="M281 496.5L359 496.5" stroke="#666" stroke-width="1"/>
<text x="276" y="497.85" font-size="3.5" font-weight="bold" text-anchor="middle" fill="#222">10<tspan font-size="2.45" dy="-1.57">0</tspan></text>
<text x="282.45" y="502.05" font-size="3.5" font-weight="bold" text-anchor="middle" fill="#222">10<tspan font-size="2.45" dy="-1.57">0</tspan></text>
<text x="276" y="478.93" font-size="3.5" font-weight="bold" text-anchor="middle" fill="#222">10<tspan font-size="2.45" dy="-1.57">1</tspan></text>
<text x="301.6" y="502.05" font-size="3.5" font-weight="bold" text-anchor="middle" fill="#222">10<tspan font-size="2.45" dy="-1.57">1</tspan></text>
<text x="276" y="460" font-size="3.5" font-weight="bold" text-anchor="middle" fill="#222">10<tspan font-size="2.45" dy="-1.57">2</tspan></text>
<text x="320.75" y="502.05" font-size="3.5" font-weight="bold" text-anchor="middle" fill="#222">10<tspan font-size="2.45" dy="-1.57">2</tspan></text>
<text x="276" y="441.08" font-size="3.5" font-weight="bold" text-anchor="middle" fill="#222">10<tspan font-size="2.45" dy="-1.57">3</tspan></text>
<text x="339.9" y="502.05" font-size="3.5" font-weight="bold" text-anchor="middle" fill="#222">10<tspan font-size="2.45" dy="-1.57">3</tspan></text>
<text x="276" y="422.15" font-size="3.5" font-weight="bold" text-anchor="middle" fill="#222">10<tspan font-size="2.45" dy="-1.57">4</tspan></text>
<text x="359.05" y="502.05" font-size="3.5" font-weight="bold" text-anchor="middle" fill="#222">10<tspan font-size="2.45" dy="-1.57">4</tspan></text>
<path d="M279.5 496.5h2M281.5 496.5v2M279.5 477.5h2M300.5 496.5v2M279.5 458.5h2M319.5 496.5v2M279.5 440.5h2M338.5 496.5v2M279.5 421.5h2M358.5 496.5v2M280.5 491.5h1M287.5 496.5v1M280.5 487.5h1M290.5 496.5v1M280.5 485.5h1M292.5 496.5v1M280.5 483.5h1M294.5 496.5v1M280.5 482.5h1M296.5 496.5v1M280.5 480.5h1M297.5 496.5v1M280.5 479.5h1M298.5 496.5v1M280.5 478.5h1M299.5 496.5v1M280.5 472.5h1M306.5 496.5v1M280.5 468.5h1M309.5 496.5v1M280.5 466.5h1M312.5 496.5v1M280.5 464.5h1M313.5 496.5v1M280.5 463.5h1M315.5 496.5v1M280.5 461.5h1M316.5 496.5v1M280.5 460.5h1M317.5 496.5v1M280.5 459.5h1M318.5 496.5v1M280.5 453.5h1M325.5 496.5v1M280.5 449.5h1M328.5 496.5v1M280.5 447.5h1M331.5 496.5v1M280.5 445.5h1M333.5 496.5v1M280.5 444.5h1M334.5 496.5v1M280.5 442.5h1M335.5 496.5v1M280.5 441.5h1M336.5 496.5v1M280.5 440.5h1M337.5 496.5v1M280.5 434.5h1M344.5 496.5v1M280.5 430.5h1M347.5 496.5v1M280.5 428.5h1M350.5 496.5v1M280.5 426.5h1M352.5 496.5v1M280.5 425.5h1M353.5 496.5v1M280.5 424.5h1M355.5 496.5v1M280.5 422.5h1M356.5 496.5v1M280.5 421.5h1M357.5 496.5v1" stroke="#555" stroke-width="1"/>
<path d="M261.5 420.2L261.5 432.7" stroke="#333" stroke-width="1"/>
<path d="M261.5 495.7L261.5 514" stroke="#333" stroke-width="1"/>
<path d="M261.5 417.7L263.2 421.3L259.8 421.3Z" fill="#111"/>
<text x="264.56" y="464.2" font-size="8.5" font-weight="bold" text-anchor="middle" fill="#111" transform="rotate(-90 264.56 464.2)">Glycophorin A</text>
<path d="M261 513.5L304.8 513.5" stroke="#333" stroke-width="1"/>
<path d="M336.4 513.5L361 513.5" stroke="#333" stroke-width="1"/>
<path d="M363.5 513.5L359.9 511.8L359.9 515.2Z" fill="#111"/>
<text x="320.6" y="514.4" font-size="8.5" font-weight="bold" text-anchor="middle" fill="#111">CD11b</text>
<rect x="38.5" y="301.5" width="51" height="27" stroke="#555" stroke-width="1" fill="none"/>
<path d="M63.5 301.5L63.5 328.5" stroke="#555" stroke-width="1"/>
<path d="M38.5 314.5L89.5 314.5" stroke="#555" stroke-width="1"/>
<text x="44.1" y="309.18" font-size="7.3" font-weight="bold" fill="#111">11.8</text>
<text x="69" y="309.18" font-size="7.3" font-weight="bold" fill="#111">0.01</text>
<text x="44.1" y="321.78" font-size="7.3" font-weight="bold" fill="#111">56.5</text>
<text x="69" y="321.78" font-size="7.3" font-weight="bold" fill="#111">30.3</text>
<rect x="378.5" y="301.5" width="52" height="26" stroke="#555" stroke-width="1" fill="none"/>
<path d="M404.5 301.5L404.5 327.5" stroke="#555" stroke-width="1"/>
<path d="M378.5 313.5L430.5 313.5" stroke="#555" stroke-width="1"/>
<text x="384.1" y="309.28" font-size="7.3" font-weight="bold" fill="#111">0.1</text>
<text x="410.1" y="309.28" font-size="7.3" font-weight="bold" fill="#111">0.02</text>
<text x="384.1" y="321.48" font-size="7.3" font-weight="bold" fill="#111">82.7</text>
<text x="410.1" y="321.48" font-size="7.3" font-weight="bold" fill="#111">15.3</text>
<rect x="38.5" y="420.5" width="51" height="27" stroke="#555" stroke-width="1" fill="none"/>
<path d="M63.5 420.5L63.5 447.5" stroke="#555" stroke-width="1"/>
<path d="M38.5 433.5L89.5 433.5" stroke="#555" stroke-width="1"/>
<text x="43.9" y="428.43" font-size="7.3" font-weight="bold" fill="#111">21.3</text>
<text x="69.3" y="428.43" font-size="7.3" font-weight="bold" fill="#111">0.7</text>
<text x="43.9" y="441.03" font-size="7.3" font-weight="bold" fill="#111">64</text>
<text x="69.3" y="441.03" font-size="7.3" font-weight="bold" fill="#111">13.2</text>
<rect x="378.5" y="428.5" width="52" height="26" stroke="#555" stroke-width="1" fill="none"/>
<path d="M404.5 428.5L404.5 454.5" stroke="#555" stroke-width="1"/>
<path d="M378.5 441.5L430.5 441.5" stroke="#555" stroke-width="1"/>
<text x="384.5" y="436.23" font-size="7.3" font-weight="bold" fill="#111">0</text>
<text x="410.1" y="436.23" font-size="7.3" font-weight="bold" fill="#111">0</text>
<text x="384.5" y="448.63" font-size="7.3" font-weight="bold" fill="#111">99.8</text>
<text x="410.1" y="448.63" font-size="7.3" font-weight="bold" fill="#111">0.01</text>
<rect x="20.5" y="544.5" width="163" height="89" stroke="#a4a4a4" stroke-width="1" fill="none"/>
<path d="M50.3 551.5L130 551.5" stroke="#999" stroke-width="1"/>
<path d="M129.5 551L129.5 611.5" stroke="#999" stroke-width="1"/>
<path d="M50.5 551L50.5 612" stroke="#777" stroke-width="1"/>
<path d="M50 611.5L129 611.5" stroke="#777" stroke-width="1"/>
<text x="47.8" y="613.05" font-size="4.3" text-anchor="end" fill="#222">0</text>
<text x="47.8" y="605.56" font-size="4.3" text-anchor="end" fill="#222">50000</text>
<text x="47.8" y="598.07" font-size="4.3" text-anchor="end" fill="#222">100000</text>
<text x="47.8" y="590.59" font-size="4.3" text-anchor="end" fill="#222">150000</text>
<text x="47.8" y="583.1" font-size="4.3" text-anchor="end" fill="#222">200000</text>
<text x="47.8" y="575.61" font-size="4.3" text-anchor="end" fill="#222">250000</text>
<text x="47.8" y="568.12" font-size="4.3" text-anchor="end" fill="#222">300000</text>
<text x="47.8" y="560.64" font-size="4.3" text-anchor="end" fill="#222">350000</text>
<text x="47.8" y="553.15" font-size="4.3" text-anchor="end" fill="#222">400000</text>
<path d="M48.5 611.5h1.5M48.5 604.5h1.5M48.5 596.5h1.5M48.5 589.5h1.5M48.5 581.5h1.5M48.5 574.5h1.5M48.5 566.5h1.5M48.5 559.5h1.5M48.5 551.5h1.5M50.5 612v1.5M63.5 612v1.5M76.5 612v1.5M89.5 612v1.5M102.5 612v1.5M115.5 612v1.5M129.5 612v1.5" stroke="#777" stroke-width="1"/>
<text x="56.86" y="619.3" font-size="4.8" text-anchor="middle" fill="#222">7</text>
<text x="69.97" y="619.3" font-size="4.8" text-anchor="middle" fill="#222">14</text>
<text x="83.09" y="619.3" font-size="4.8" text-anchor="middle" fill="#222">21</text>
<text x="96.21" y="619.3" font-size="4.8" text-anchor="middle" fill="#222">28</text>
<text x="109.33" y="619.3" font-size="4.8" text-anchor="middle" fill="#222">35</text>
<text x="122.44" y="619.3" font-size="4.8" text-anchor="middle" fill="#222">42</text>
<text x="30" y="582" font-size="4.65" text-anchor="middle" fill="#111" transform="rotate(-90 30 582)">Total Number of Cells</text>
<text x="89.6" y="627.2" font-size="4.6" font-weight="bold" text-anchor="middle" fill="#222">Days in Culture</text>
<polyline points="56.9,610.0 70.0,605.5 83.1,582.7 96.2,586.5 109.3,588.3 122.4,592.9" fill="none" stroke="#999" stroke-width="0.8" stroke-linejoin="round"/>
<path d="M56.9 608.7L58.2 611.0L55.6 611.0Z" fill="#777"/>
<path d="M70.0 604.2L71.3 606.5L68.7 606.5Z" fill="#777"/>
<path d="M83.1 581.4L84.4 583.8L81.8 583.8Z" fill="#777"/>
<path d="M96.2 585.2L97.5 587.5L94.9 587.5Z" fill="#777"/>
<path d="M109.3 587.0L110.6 589.3L108.0 589.3Z" fill="#777"/>
<path d="M122.4 591.6L123.7 594.0L121.1 594.0Z" fill="#777"/>
<polyline points="56.9,610.2 70.0,609.0 83.1,601.6 96.2,584.8 109.3,573.6 122.4,560.7" fill="none" stroke="#444" stroke-width="1.1" stroke-dasharray="1.6,2.2" stroke-linejoin="round"/>
<path d="M56.9 608.7L58.4 611.4L55.4 611.4Z" fill="#111"/>
<path d="M70.0 607.5L71.5 610.2L68.5 610.2Z" fill="#111"/>
<path d="M83.1 600.1L84.6 602.8L81.6 602.8Z" fill="#111"/>
<path d="M96.2 583.3L97.7 586.0L94.7 586.0Z" fill="#111"/>
<path d="M109.3 572.1L110.8 574.8L107.8 574.8Z" fill="#111"/>
<path d="M122.4 559.2L123.9 561.9L120.9 561.9Z" fill="#111"/>
<polyline points="56.9,609.3 70.0,604.9 83.1,578.3 96.2,588.0 109.3,588.7 122.4,590.8" fill="none" stroke="#000" stroke-width="1.3" stroke-linejoin="round"/>
<circle cx="56.9" cy="609.3" r="1" fill="#000"/>
<circle cx="70.0" cy="604.9" r="1" fill="#000"/>
<circle cx="83.1" cy="578.3" r="1" fill="#000"/>
<circle cx="96.2" cy="588.0" r="1" fill="#000"/>
<circle cx="109.3" cy="588.7" r="1" fill="#000"/>
<circle cx="122.4" cy="590.8" r="1" fill="#000"/>
<rect x="132.5" y="563.5" width="50" height="37" stroke="#e4e4e4" stroke-width="1" fill="none"/>
<polyline points="134.4,567.5 147.5,567.5" fill="none" stroke="#777" stroke-width="0.7" stroke-linejoin="round"/>
<path d="M140.9 566.4L142.0 568.4L139.8 568.4Z" fill="#444"/>
<text x="149.2" y="569.07" font-size="4.35" fill="#222">Non Transduced</text>
<text x="149.2" y="573.77" font-size="4.35" fill="#222">HSC+Tpo</text>
<polyline points="134.4,579.6 147.5,579.6" fill="none" stroke="#000" stroke-width="1.5" stroke-linejoin="round"/>
<text x="149.2" y="581.17" font-size="4.35" fill="#222">Transduced</text>
<text x="149.2" y="586.07" font-size="4.35" fill="#222">HSC+Tpo</text>
<polyline points="134.4,591.9 147.5,591.9" fill="none" stroke="#222" stroke-width="1" stroke-dasharray="1.5,2.5" stroke-linejoin="round"/>
<path d="M140.9 590.6L142.2 592.9L139.6 592.9Z" fill="#111"/>
<text x="149.2" y="593.47" font-size="4.35" fill="#222">Transduced</text>
<text x="149.2" y="598.37" font-size="4.35" fill="#222">HSC+CID</text>
<rect x="190.5" y="547.5" width="166" height="85" stroke="#a4a4a4" stroke-width="1" fill="none"/>
<path d="M220.5 555.5L302 555.5" stroke="#999" stroke-width="1"/>
<path d="M301.5 555L301.5 610.3" stroke="#999" stroke-width="1"/>
<path d="M220.5 555L220.5 611" stroke="#777" stroke-width="1"/>
<path d="M220 610.5L301.2 610.5" stroke="#777" stroke-width="1"/>
<text x="217.6" y="611.85" font-size="4.3" text-anchor="end" fill="#222">0</text>
<text x="217.6" y="605.7" font-size="4.3" text-anchor="end" fill="#222">20000</text>
<text x="217.6" y="599.56" font-size="4.3" text-anchor="end" fill="#222">40000</text>
<text x="217.6" y="593.41" font-size="4.3" text-anchor="end" fill="#222">60000</text>
<text x="217.6" y="587.27" font-size="4.3" text-anchor="end" fill="#222">80000</text>
<text x="217.6" y="581.13" font-size="4.3" text-anchor="end" fill="#222">100000</text>
<text x="217.6" y="574.98" font-size="4.3" text-anchor="end" fill="#222">120000</text>
<text x="217.6" y="568.84" font-size="4.3" text-anchor="end" fill="#222">140000</text>
<text x="217.6" y="562.69" font-size="4.3" text-anchor="end" fill="#222">160000</text>
<text x="217.6" y="556.55" font-size="4.3" text-anchor="end" fill="#222">180000</text>
<path d="M218.5 610.5h1.5M218.5 604.5h1.5M218.5 598.5h1.5M218.5 591.5h1.5M218.5 585.5h1.5M218.5 579.5h1.5M218.5 573.5h1.5M218.5 567.5h1.5M218.5 561.5h1.5M218.5 555.5h1.5M220.5 611v1.5M233.5 611v1.5M247.5 611v1.5M260.5 611v1.5M274.5 611v1.5M287.5 611v1.5M301.5 611v1.5" stroke="#777" stroke-width="1"/>
<text x="227.22" y="618.5" font-size="4.8" text-anchor="middle" fill="#222">7</text>
<text x="240.68" y="618.5" font-size="4.8" text-anchor="middle" fill="#222">14</text>
<text x="254.12" y="618.5" font-size="4.8" text-anchor="middle" fill="#222">21</text>
<text x="267.57" y="618.5" font-size="4.8" text-anchor="middle" fill="#222">28</text>
<text x="281.02" y="618.5" font-size="4.8" text-anchor="middle" fill="#222">35</text>
<text x="294.47" y="618.5" font-size="4.8" text-anchor="middle" fill="#222">42</text>
<text x="199.3" y="583.4" font-size="4.45" font-weight="bold" text-anchor="middle" fill="#222" transform="rotate(-90 199.3 583.4)">Number of CD34+ cells</text>
<text x="260.8" y="626.5" font-size="4.6" font-weight="bold" text-anchor="middle" fill="#222">Days in MS5 Culture</text>
<polyline points="227.2,608.9 240.7,609.4 254.1,604.5 267.6,588.2 281.0,575.9 294.5,559.9" fill="none" stroke="#333" stroke-width="0.7" stroke-linejoin="round"/>
<circle cx="227.2" cy="608.9" r="0.6" fill="#333"/>
<circle cx="240.7" cy="609.4" r="0.6" fill="#333"/>
<circle cx="254.1" cy="604.5" r="0.6" fill="#333"/>
<circle cx="267.6" cy="588.2" r="0.6" fill="#333"/>
<circle cx="281.0" cy="575.9" r="0.6" fill="#333"/>
<circle cx="294.5" cy="559.9" r="0.6" fill="#333"/>
<polyline points="227.2,607.8 240.7,606.6 254.1,590.3 267.6,600.2 281.0,603.2 294.5,606.9" fill="none" stroke="#444" stroke-width="0.9" stroke-dasharray="2.2,1.3" stroke-linejoin="round"/>
<path d="M227.2 606.3L228.7 609.0L225.7 609.0Z" fill="#222"/>
<path d="M240.7 605.1L242.2 607.8L239.2 607.8Z" fill="#222"/>
<path d="M254.1 588.8L255.6 591.5L252.6 591.5Z" fill="#222"/>
<path d="M267.6 598.7L269.1 601.4L266.1 601.4Z" fill="#222"/>
<path d="M281.0 601.7L282.5 604.4L279.5 604.4Z" fill="#222"/>
<path d="M294.5 605.4L296.0 608.1L293.0 608.1Z" fill="#222"/>
<polyline points="227.2,608.5 240.7,608.8 254.1,591.9 267.6,598.6 281.0,602.3 294.5,606.9" fill="none" stroke="#111" stroke-width="0.9" stroke-linejoin="round"/>
<circle cx="227.2" cy="608.5" r="1.3" fill="#111"/>
<circle cx="240.7" cy="608.8" r="1.3" fill="#111"/>
<circle cx="254.1" cy="591.9" r="1.3" fill="#111"/>
<circle cx="267.6" cy="598.6" r="1.3" fill="#111"/>
<circle cx="281.0" cy="602.3" r="1.3" fill="#111"/>
<circle cx="294.5" cy="606.9" r="1.3" fill="#111"/>
<rect x="304.5" y="563.5" width="51" height="39" stroke="#e4e4e4" stroke-width="1" fill="none"/>
<polyline points="305.6,567.3 320.4,567.3" fill="none" stroke="#999" stroke-width="0.7" stroke-dasharray="2,1" stroke-linejoin="round"/>
<circle cx="313.0" cy="567.3" r="1" fill="#222"/>
<text x="321.5" y="568.88" font-size="4.4" fill="#222">Non Transduced</text>
<text x="321.5" y="574.08" font-size="4.4" fill="#222">HSC+Tpo</text>
<polyline points="305.6,580.2 320.4,580.2" fill="none" stroke="#222" stroke-width="0.9" stroke-dasharray="2.2,1.3" stroke-linejoin="round"/>
<circle cx="313.0" cy="580.2" r="1.1" fill="#000"/>
<text x="321.5" y="581.78" font-size="4.4" fill="#222">Transduced</text>
<text x="321.5" y="586.98" font-size="4.4" fill="#222">HSC+Tpo</text>
<polyline points="305.6,592.3 320.4,592.3" fill="none" stroke="#888" stroke-width="0.7" stroke-linejoin="round"/>
<circle cx="313.0" cy="592.3" r="0.6" fill="#666"/>
<text x="321.5" y="593.88" font-size="4.4" fill="#222">Transduced</text>
<text x="321.5" y="599.08" font-size="4.4" fill="#222">HSC+CID</text>
<rect x="372.5" y="531.5" width="147" height="113" stroke="#777" stroke-width="1" fill="none"/>
<path d="M397 541.5L463 541.5" stroke="#999" stroke-width="1"/>
<path d="M462.5 541L462.5 616.5" stroke="#999" stroke-width="1"/>
<path d="M397.5 541L397.5 617" stroke="#777" stroke-width="1"/>
<path d="M397 616.5L462.3 616.5" stroke="#777" stroke-width="1"/>
<text x="393.8" y="618.52" font-size="5.6" text-anchor="end" fill="#222">0</text>
<text x="393.8" y="606" font-size="5.6" text-anchor="end" fill="#222">10</text>
<text x="393.8" y="593.48" font-size="5.6" text-anchor="end" fill="#222">20</text>
<text x="393.8" y="580.97" font-size="5.6" text-anchor="end" fill="#222">30</text>
<text x="393.8" y="568.45" font-size="5.6" text-anchor="end" fill="#222">40</text>
<text x="393.8" y="555.93" font-size="5.6" text-anchor="end" fill="#222">50</text>
<text x="393.8" y="543.42" font-size="5.6" text-anchor="end" fill="#222">60</text>
<path d="M395.5 616.5h1.5M395.5 603.5h1.5M395.5 591.5h1.5M395.5 578.5h1.5M395.5 566.5h1.5M395.5 553.5h1.5M395.5 541.5h1.5M397.5 617v1.5M407.5 617v1.5M418.5 617v1.5M429.5 617v1.5M440.5 617v1.5M451.5 617v1.5M462.5 617v1.5" stroke="#777" stroke-width="1"/>
<text x="402.44" y="625" font-size="5.8" text-anchor="middle" fill="#222">7</text>
<text x="413.32" y="625" font-size="5.8" text-anchor="middle" fill="#222">14</text>
<text x="424.21" y="625" font-size="5.8" text-anchor="middle" fill="#222">21</text>
<text x="435.09" y="625" font-size="5.8" text-anchor="middle" fill="#222">28</text>
<text x="445.98" y="625" font-size="5.8" text-anchor="middle" fill="#222">35</text>
<text x="456.86" y="625" font-size="5.8" text-anchor="middle" fill="#222">42</text>
<text x="383.7" y="579.9" font-size="5.8" text-anchor="middle" fill="#222" transform="rotate(-90 383.7 579.9)">% CFU</text>
<text x="432.2" y="634.8" font-size="6.1" font-weight="bold" text-anchor="middle" fill="#222">Days in MS5 Culture</text>
<path d="M402.4 562.9V568.7M400.8 562.9h3.2M400.8 568.7h3.2" stroke="#222" stroke-width="0.8"/>
<path d="M413.3 567.7V573.4M411.7 567.7h3.2M411.7 573.4h3.2" stroke="#222" stroke-width="0.8"/>
<path d="M424.2 576.1V581.8M422.6 576.1h3.2M422.6 581.8h3.2" stroke="#222" stroke-width="0.8"/>
<path d="M435.1 586.3V592.1M433.5 586.3h3.2M433.5 592.1h3.2" stroke="#222" stroke-width="0.8"/>
<path d="M446.0 591.7V597.5M444.4 591.7h3.2M444.4 597.5h3.2" stroke="#222" stroke-width="0.8"/>
<path d="M456.9 602.4V608.1M455.3 602.4h3.2M455.3 608.1h3.2" stroke="#222" stroke-width="0.8"/>
<path d="M402.4 570.1V575.8M400.8 570.1h3.2M400.8 575.8h3.2" stroke="#222" stroke-width="0.8"/>
<path d="M413.3 574.2V580.0M411.7 574.2h3.2M411.7 580.0h3.2" stroke="#222" stroke-width="0.8"/>
<path d="M424.2 577.9V583.7M422.6 577.9h3.2M422.6 583.7h3.2" stroke="#222" stroke-width="0.8"/>
<path d="M435.1 589.1V594.8M433.5 589.1h3.2M433.5 594.8h3.2" stroke="#222" stroke-width="0.8"/>
<path d="M446.0 593.2V599.0M444.4 593.2h3.2M444.4 599.0h3.2" stroke="#222" stroke-width="0.8"/>
<path d="M456.9 602.4V608.1M455.3 602.4h3.2M455.3 608.1h3.2" stroke="#222" stroke-width="0.8"/>
<path d="M402.4 584.1V589.8M400.8 584.1h3.2M400.8 589.8h3.2" stroke="#222" stroke-width="0.8"/>
<path d="M413.3 582.6V588.3M411.7 582.6h3.2M411.7 588.3h3.2" stroke="#222" stroke-width="0.8"/>
<path d="M424.2 582.0V587.7M422.6 582.0h3.2M422.6 587.7h3.2" stroke="#222" stroke-width="0.8"/>
<path d="M435.1 563.9V569.7M433.5 563.9h3.2M433.5 569.7h3.2" stroke="#222" stroke-width="0.8"/>
<path d="M446.0 558.5V564.3M444.4 558.5h3.2M444.4 564.3h3.2" stroke="#222" stroke-width="0.8"/>
<path d="M456.9 553.7V559.4M455.3 553.7h3.2M455.3 559.4h3.2" stroke="#222" stroke-width="0.8"/>
<polyline points="402.4,565.8 413.3,570.6 424.2,578.9 435.1,589.2 446.0,594.6 456.9,605.2" fill="none" stroke="#111" stroke-width="1.5" stroke-dasharray="1.8,3" stroke-linejoin="round"/>
<path d="M402.4 563.8L404.4 565.8L402.4 567.8L400.4 565.8Z" fill="#111"/>
<path d="M413.3 568.6L415.3 570.6L413.3 572.6L411.3 570.6Z" fill="#111"/>
<path d="M424.2 576.9L426.2 578.9L424.2 580.9L422.2 578.9Z" fill="#111"/>
<path d="M435.1 587.2L437.1 589.2L435.1 591.2L433.1 589.2Z" fill="#111"/>
<path d="M446.0 592.6L448.0 594.6L446.0 596.6L444.0 594.6Z" fill="#111"/>
<path d="M456.9 603.2L458.9 605.2L456.9 607.2L454.9 605.2Z" fill="#111"/>
<polyline points="402.4,572.9 413.3,577.1 424.2,580.8 435.1,592.0 446.0,596.1 456.9,605.2" fill="none" stroke="#111" stroke-width="1.5" stroke-dasharray="4,2.5" stroke-linejoin="round"/>
<circle cx="402.4" cy="572.9" r="1.5" fill="#fff" stroke="#111" stroke-width="0.6"/>
<circle cx="413.3" cy="577.1" r="1.5" fill="#fff" stroke="#111" stroke-width="0.6"/>
<circle cx="424.2" cy="580.8" r="1.5" fill="#fff" stroke="#111" stroke-width="0.6"/>
<circle cx="435.1" cy="592.0" r="1.5" fill="#fff" stroke="#111" stroke-width="0.6"/>
<circle cx="446.0" cy="596.1" r="1.5" fill="#fff" stroke="#111" stroke-width="0.6"/>
<circle cx="456.9" cy="605.2" r="1.5" fill="#fff" stroke="#111" stroke-width="0.6"/>
<polyline points="402.4,587.0 413.3,585.5 424.2,584.8 435.1,566.8 446.0,561.4 456.9,556.5" fill="none" stroke="#111" stroke-width="1.4" stroke-linejoin="round"/>
<path d="M402.4 585.1L404.3 588.5L400.5 588.5Z" fill="#111"/>
<path d="M413.3 583.6L415.2 587.0L411.4 587.0Z" fill="#111"/>
<path d="M424.2 582.9L426.1 586.4L422.3 586.4Z" fill="#111"/>
<path d="M435.1 564.9L437.0 568.3L433.2 568.3Z" fill="#111"/>
<path d="M446.0 559.5L447.9 562.9L444.1 562.9Z" fill="#111"/>
<path d="M456.9 554.6L458.8 558.1L455.0 558.1Z" fill="#111"/>
<rect x="467.5" y="545.5" width="50" height="66" stroke="#888" stroke-width="1" fill="none"/>
<polyline points="469.8,550.1 487.4,550.1" fill="none" stroke="#111" stroke-width="1.5" stroke-dasharray="1.8,3.2" stroke-linejoin="round"/>
<path d="M478.6 548.5L480.2 550.1L478.6 551.7L477.0 550.1Z" fill="#111"/>
<text x="489.3" y="551.94" font-size="5.1" fill="#222">Non</text>
<text x="489.3" y="558.44" font-size="5.1" fill="#222">Transduced</text>
<text x="489.3" y="564.94" font-size="5.1" fill="#222">HSC+Tpo</text>
<polyline points="469.8,572.4 487.4,572.4" fill="none" stroke="#111" stroke-width="1.5" stroke-dasharray="6,2.5" stroke-linejoin="round"/>
<circle cx="478.6" cy="572.4" r="1.2" fill="#fff" stroke="#111" stroke-width="0.6"/>
<text x="489.3" y="574.24" font-size="5.1" fill="#222">Transduced</text>
<text x="489.3" y="580.84" font-size="5.1" fill="#222">HSC+Tpo</text>
<polyline points="469.8,594.2 487.4,594.2" fill="none" stroke="#111" stroke-width="1.4" stroke-linejoin="round"/>
<path d="M478.6 592.6L480.2 595.5L477.0 595.5Z" fill="#111"/>
<text x="489.3" y="596.04" font-size="5.1" fill="#222">Transduced</text>
<text x="489.3" y="602.74" font-size="5.1" fill="#222">HSC+CID</text>
</svg></body></html>
